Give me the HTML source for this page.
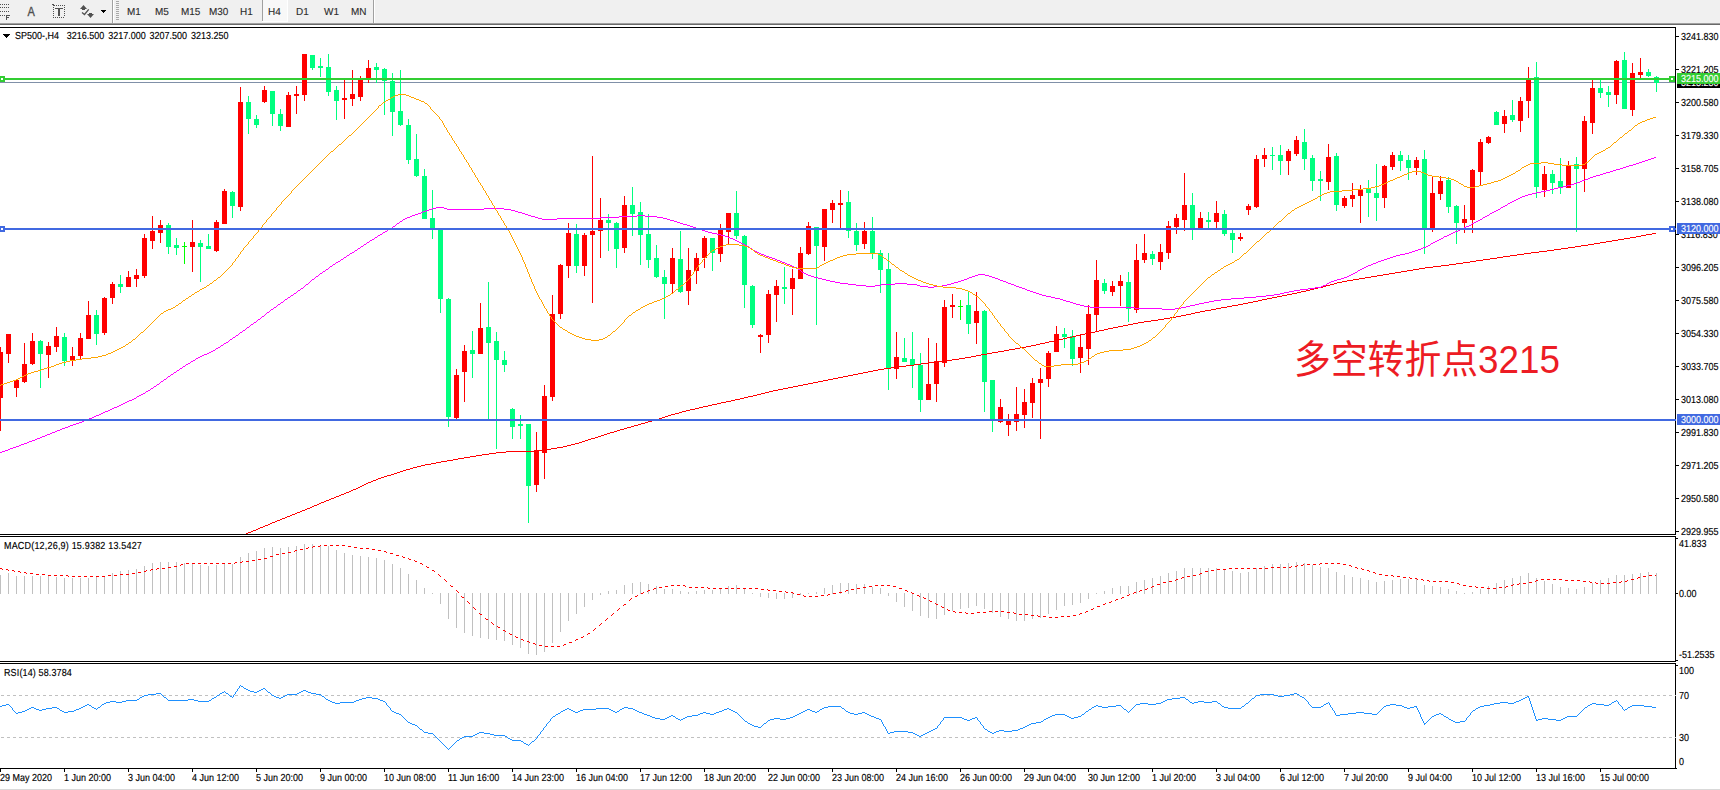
<!DOCTYPE html>
<html lang="zh"><head><meta charset="utf-8"><title>SP500-,H4</title>
<style>
html,body{margin:0;padding:0;background:#fff;}
body{width:1720px;height:790px;position:relative;overflow:hidden;font-family:"Liberation Sans",sans-serif;color:#000;}
.abs{position:absolute;}
#tb{left:0;top:0;width:1720px;height:23px;background:#f0f0f0;}
#tb1{left:0;top:23px;width:1720px;height:1px;background:#a0a0a0;}
#tb2{left:0;top:24px;width:1720px;height:1px;background:#696969;}
#bot{left:0;top:789px;width:1720px;height:1px;background:#d9d9d9;}
svg{position:absolute;left:0;top:0;}
.t{position:absolute;white-space:nowrap;font-size:10.17px;line-height:11px;height:11px;-webkit-text-stroke:0.15px #000;text-rendering:geometricPrecision;transform:scaleX(0.885);transform-origin:0 0;margin-top:1px;}
.tf{position:absolute;white-space:nowrap;font-size:10.17px;line-height:12px;height:12px;top:7px;color:#2c2c2c;-webkit-text-stroke:0.12px #2c2c2c;text-rendering:geometricPrecision;transform:scaleX(0.98);transform-origin:0 0;}
.lab{position:absolute;left:1677px;width:43px;height:11px;color:#fff;}
.lab span{position:absolute;left:4px;top:1px;font-size:10.17px;line-height:11px;white-space:nowrap;-webkit-text-stroke:0.15px #fff;text-rendering:geometricPrecision;transform:scaleX(0.885);transform-origin:0 0;}
#note{position:absolute;left:1294px;top:332.6px;font-family:"Liberation Sans","Noto Sans CJK SC",sans-serif;font-size:36.8px;line-height:52px;color:#ed1c24;white-space:nowrap;transform:scaleY(1.055);transform-origin:0 0;}
</style></head><body>
<div class="abs" id="tb"></div><div class="abs" id="tb1"></div><div class="abs" id="tb2"></div><div class="abs" id="bot"></div>
<svg width="1720" height="25" viewBox="0 0 1720 25" shape-rendering="crispEdges"><rect x="0" y="4" width="1" height="1" fill="#505050"/><rect x="2" y="4" width="1" height="1" fill="#505050"/><rect x="4" y="4" width="1" height="1" fill="#505050"/><rect x="6" y="4" width="1" height="1" fill="#505050"/><rect x="8" y="4" width="1" height="1" fill="#505050"/><rect x="0" y="7" width="1" height="1" fill="#505050"/><rect x="2" y="7" width="1" height="1" fill="#505050"/><rect x="4" y="7" width="1" height="1" fill="#505050"/><rect x="6" y="7" width="1" height="1" fill="#505050"/><rect x="8" y="7" width="1" height="1" fill="#505050"/><rect x="0" y="11" width="1" height="1" fill="#505050"/><rect x="2" y="11" width="1" height="1" fill="#505050"/><rect x="4" y="11" width="1" height="1" fill="#505050"/><rect x="6" y="11" width="1" height="1" fill="#505050"/><rect x="8" y="11" width="1" height="1" fill="#505050"/><rect x="0" y="15" width="1" height="1" fill="#505050"/><rect x="2" y="15" width="1" height="1" fill="#505050"/><rect x="4" y="15" width="1" height="1" fill="#505050"/><rect x="6" y="15" width="1" height="5" fill="#505050"/><rect x="6" y="15" width="4" height="1" fill="#505050"/><rect x="6" y="17" width="3" height="1" fill="#505050"/><rect x="54" y="5" width="1" height="1" fill="#505050"/><rect x="56" y="5" width="1" height="1" fill="#505050"/><rect x="58" y="5" width="1" height="1" fill="#505050"/><rect x="60" y="5" width="1" height="1" fill="#505050"/><rect x="62" y="5" width="1" height="1" fill="#505050"/><rect x="64" y="5" width="1" height="1" fill="#505050"/><rect x="52" y="4" width="2" height="1" fill="#505050"/><rect x="53" y="5" width="1" height="1" fill="#505050"/><rect x="53" y="7" width="1" height="1" fill="#505050"/><rect x="53" y="9" width="1" height="1" fill="#505050"/><rect x="53" y="11" width="1" height="1" fill="#505050"/><rect x="53" y="13" width="1" height="1" fill="#505050"/><rect x="53" y="15" width="1" height="1" fill="#505050"/><rect x="53" y="17" width="1" height="1" fill="#505050"/><rect x="64" y="7" width="1" height="1" fill="#505050"/><rect x="64" y="9" width="1" height="1" fill="#505050"/><rect x="64" y="11" width="1" height="1" fill="#505050"/><rect x="64" y="13" width="1" height="1" fill="#505050"/><rect x="64" y="15" width="1" height="1" fill="#505050"/><rect x="53" y="17" width="1" height="1" fill="#505050"/><rect x="55" y="17" width="1" height="1" fill="#505050"/><rect x="57" y="17" width="1" height="1" fill="#505050"/><rect x="59" y="17" width="1" height="1" fill="#505050"/><rect x="61" y="17" width="1" height="1" fill="#505050"/><rect x="63" y="17" width="1" height="1" fill="#505050"/><rect x="55" y="8" width="8" height="1" fill="#505050"/><rect x="58" y="8" width="2" height="8" fill="#505050"/><polygon points="83.5,5 87,9 80,9" fill="#505050" shape-rendering="auto"/><rect x="82" y="9" width="3" height="1" fill="#505050"/><polygon points="87,14 94,14 90.5,18" fill="#505050" shape-rendering="auto"/><rect x="89" y="13" width="3" height="1" fill="#505050"/><polyline points="82,12.5 84.5,14.5 88.7,9.3" fill="none" stroke="#505050" stroke-width="1.3" shape-rendering="auto"/><rect x="101" y="10" width="5" height="1" fill="#000"/><rect x="102" y="11" width="3" height="1" fill="#000"/><rect x="103" y="12" width="1" height="1" fill="#000"/><rect x="112" y="0" width="1" height="23" fill="#a0a0a0"/><rect x="113" y="0" width="1" height="23" fill="#fff"/><rect x="116" y="1" width="3" height="1" fill="#a8a8a8"/><rect x="116" y="3" width="3" height="1" fill="#a8a8a8"/><rect x="116" y="5" width="3" height="1" fill="#a8a8a8"/><rect x="116" y="7" width="3" height="1" fill="#a8a8a8"/><rect x="116" y="9" width="3" height="1" fill="#a8a8a8"/><rect x="116" y="11" width="3" height="1" fill="#a8a8a8"/><rect x="116" y="13" width="3" height="1" fill="#a8a8a8"/><rect x="116" y="15" width="3" height="1" fill="#a8a8a8"/><rect x="116" y="17" width="3" height="1" fill="#a8a8a8"/><rect x="116" y="19" width="3" height="1" fill="#a8a8a8"/><rect x="262" y="0" width="26" height="22" fill="#f8f8f8"/><rect x="262" y="0" width="1" height="21" fill="#a0a0a0"/><rect x="287" y="0" width="1" height="22" fill="#fff"/><rect x="262" y="21" width="26" height="1" fill="#fff"/><rect x="373" y="0" width="1" height="23" fill="#a0a0a0"/><rect x="374" y="0" width="1" height="23" fill="#fff"/></svg>
<div class="abs" style="left:26.5px;top:4px;font-size:12.5px;line-height:16px;color:#505050;-webkit-text-stroke:0.35px #505050;transform:scaleX(0.88);">A</div>
<div class="tf" style="left:127.3px">M1</div><div class="tf" style="left:155.4px">M5</div><div class="tf" style="left:181.2px">M15</div><div class="tf" style="left:209.2px">M30</div><div class="tf" style="left:240.4px">H1</div><div class="tf" style="left:267.6px">H4</div><div class="tf" style="left:296.4px">D1</div><div class="tf" style="left:324.2px">W1</div><div class="tf" style="left:350.5px">MN</div>
<svg width="1720" height="790" viewBox="0 0 1720 790" shape-rendering="crispEdges"><defs><clipPath id="cmain"><rect x="0" y="28" width="1676" height="506"/></clipPath></defs>
<rect x="0" y="27" width="1676" height="1" fill="#000"/>
<rect x="1675" y="27" width="1" height="508" fill="#000"/>
<rect x="1675" y="536" width="1" height="126" fill="#000"/>
<rect x="1675" y="663" width="1" height="106" fill="#000"/>
<rect x="0" y="534" width="1676" height="1" fill="#000"/>
<rect x="0" y="536" width="1676" height="1" fill="#000"/>
<rect x="0" y="661" width="1676" height="1" fill="#000"/>
<rect x="0" y="663" width="1676" height="1" fill="#000"/>
<rect x="0" y="768" width="1677" height="1" fill="#000"/>
<g clip-path="url(#cmain)">
<rect x="0" y="82" width="1675" height="1" fill="#8090a8"/>
<rect x="0" y="347" width="1" height="84" fill="#ff0000"/>
<rect x="-2" y="352" width="5" height="46" fill="#ff0000"/>
<rect x="8" y="334" width="1" height="29" fill="#ff0000"/>
<rect x="6" y="334" width="5" height="20" fill="#ff0000"/>
<rect x="16" y="379" width="1" height="18" fill="#ff0000"/>
<rect x="14" y="380" width="5" height="8" fill="#ff0000"/>
<rect x="24" y="343" width="1" height="40" fill="#ff0000"/>
<rect x="22" y="364" width="5" height="18" fill="#ff0000"/>
<rect x="32" y="333" width="1" height="32" fill="#ff0000"/>
<rect x="30" y="341" width="5" height="23" fill="#ff0000"/>
<rect x="40" y="340" width="1" height="48" fill="#00ff7f"/>
<rect x="38" y="341" width="5" height="13" fill="#00ff7f"/>
<rect x="48" y="342" width="1" height="36" fill="#ff0000"/>
<rect x="46" y="346" width="5" height="9" fill="#ff0000"/>
<rect x="56" y="327" width="1" height="25" fill="#ff0000"/>
<rect x="54" y="336" width="5" height="11" fill="#ff0000"/>
<rect x="64" y="333" width="1" height="33" fill="#00ff7f"/>
<rect x="62" y="337" width="5" height="24" fill="#00ff7f"/>
<rect x="72" y="347" width="1" height="19" fill="#ff0000"/>
<rect x="70" y="356" width="5" height="5" fill="#ff0000"/>
<rect x="80" y="333" width="1" height="26" fill="#ff0000"/>
<rect x="78" y="338" width="5" height="18" fill="#ff0000"/>
<rect x="88" y="301" width="1" height="38" fill="#ff0000"/>
<rect x="86" y="315" width="5" height="24" fill="#ff0000"/>
<rect x="96" y="310" width="1" height="35" fill="#00ff7f"/>
<rect x="94" y="315" width="5" height="19" fill="#00ff7f"/>
<rect x="104" y="297" width="1" height="38" fill="#ff0000"/>
<rect x="102" y="298" width="5" height="35" fill="#ff0000"/>
<rect x="112" y="282" width="1" height="22" fill="#ff0000"/>
<rect x="110" y="284" width="5" height="14" fill="#ff0000"/>
<rect x="120" y="275" width="1" height="18" fill="#00ff7f"/>
<rect x="118" y="284" width="5" height="3" fill="#00ff7f"/>
<rect x="128" y="271" width="1" height="16" fill="#ff0000"/>
<rect x="126" y="277" width="5" height="10" fill="#ff0000"/>
<rect x="136" y="269" width="1" height="18" fill="#ff0000"/>
<rect x="134" y="275" width="5" height="4" fill="#ff0000"/>
<rect x="144" y="234" width="1" height="44" fill="#ff0000"/>
<rect x="142" y="238" width="5" height="38" fill="#ff0000"/>
<rect x="152" y="216" width="1" height="33" fill="#ff0000"/>
<rect x="150" y="231" width="5" height="10" fill="#ff0000"/>
<rect x="160" y="220" width="1" height="23" fill="#ff0000"/>
<rect x="158" y="225" width="5" height="8" fill="#ff0000"/>
<rect x="168" y="223" width="1" height="31" fill="#00ff7f"/>
<rect x="166" y="225" width="5" height="22" fill="#00ff7f"/>
<rect x="176" y="238" width="1" height="17" fill="#00ff7f"/>
<rect x="174" y="245" width="5" height="3" fill="#00ff7f"/>
<rect x="184" y="242" width="1" height="22" fill="#00ff00"/>
<rect x="182" y="246" width="5" height="1" fill="#00ff00"/>
<rect x="192" y="220" width="1" height="52" fill="#ff0000"/>
<rect x="190" y="242" width="5" height="5" fill="#ff0000"/>
<rect x="200" y="240" width="1" height="42" fill="#00ff7f"/>
<rect x="198" y="243" width="5" height="4" fill="#00ff7f"/>
<rect x="208" y="234" width="1" height="15" fill="#00ff7f"/>
<rect x="206" y="246" width="5" height="3" fill="#00ff7f"/>
<rect x="216" y="220" width="1" height="32" fill="#ff0000"/>
<rect x="214" y="222" width="5" height="29" fill="#ff0000"/>
<rect x="224" y="189" width="1" height="35" fill="#ff0000"/>
<rect x="222" y="191" width="5" height="33" fill="#ff0000"/>
<rect x="232" y="191" width="1" height="27" fill="#00ff7f"/>
<rect x="230" y="192" width="5" height="14" fill="#00ff7f"/>
<rect x="240" y="87" width="1" height="124" fill="#ff0000"/>
<rect x="238" y="102" width="5" height="105" fill="#ff0000"/>
<rect x="248" y="96" width="1" height="38" fill="#00ff7f"/>
<rect x="246" y="102" width="5" height="17" fill="#00ff7f"/>
<rect x="256" y="115" width="1" height="13" fill="#00ff7f"/>
<rect x="254" y="119" width="5" height="6" fill="#00ff7f"/>
<rect x="264" y="86" width="1" height="17" fill="#ff0000"/>
<rect x="262" y="90" width="5" height="12" fill="#ff0000"/>
<rect x="272" y="91" width="1" height="35" fill="#00ff7f"/>
<rect x="270" y="91" width="5" height="23" fill="#00ff7f"/>
<rect x="280" y="109" width="1" height="22" fill="#00ff7f"/>
<rect x="278" y="114" width="5" height="12" fill="#00ff7f"/>
<rect x="288" y="92" width="1" height="35" fill="#ff0000"/>
<rect x="286" y="95" width="5" height="32" fill="#ff0000"/>
<rect x="296" y="86" width="1" height="28" fill="#ff0000"/>
<rect x="294" y="94" width="5" height="2" fill="#ff0000"/>
<rect x="304" y="54" width="1" height="47" fill="#ff0000"/>
<rect x="302" y="54" width="5" height="41" fill="#ff0000"/>
<rect x="312" y="55" width="1" height="15" fill="#00ff7f"/>
<rect x="310" y="55" width="5" height="13" fill="#00ff7f"/>
<rect x="320" y="58" width="1" height="19" fill="#00ff7f"/>
<rect x="318" y="66" width="5" height="2" fill="#00ff7f"/>
<rect x="328" y="54" width="1" height="42" fill="#00ff7f"/>
<rect x="326" y="67" width="5" height="25" fill="#00ff7f"/>
<rect x="336" y="86" width="1" height="34" fill="#00ff7f"/>
<rect x="334" y="90" width="5" height="11" fill="#00ff7f"/>
<rect x="344" y="80" width="1" height="39" fill="#ff0000"/>
<rect x="342" y="98" width="5" height="2" fill="#ff0000"/>
<rect x="352" y="70" width="1" height="36" fill="#ff0000"/>
<rect x="350" y="94" width="5" height="5" fill="#ff0000"/>
<rect x="360" y="76" width="1" height="25" fill="#ff0000"/>
<rect x="358" y="79" width="5" height="18" fill="#ff0000"/>
<rect x="368" y="60" width="1" height="23" fill="#ff0000"/>
<rect x="366" y="68" width="5" height="10" fill="#ff0000"/>
<rect x="376" y="63" width="1" height="20" fill="#00ff7f"/>
<rect x="374" y="67" width="5" height="3" fill="#00ff7f"/>
<rect x="384" y="68" width="1" height="47" fill="#00ff7f"/>
<rect x="382" y="69" width="5" height="12" fill="#00ff7f"/>
<rect x="392" y="73" width="1" height="63" fill="#00ff7f"/>
<rect x="390" y="81" width="5" height="31" fill="#00ff7f"/>
<rect x="400" y="70" width="1" height="56" fill="#00ff7f"/>
<rect x="398" y="111" width="5" height="14" fill="#00ff7f"/>
<rect x="408" y="119" width="1" height="45" fill="#00ff7f"/>
<rect x="406" y="125" width="5" height="35" fill="#00ff7f"/>
<rect x="416" y="134" width="1" height="43" fill="#00ff7f"/>
<rect x="414" y="159" width="5" height="17" fill="#00ff7f"/>
<rect x="424" y="169" width="1" height="50" fill="#00ff7f"/>
<rect x="422" y="176" width="5" height="43" fill="#00ff7f"/>
<rect x="432" y="190" width="1" height="49" fill="#00ff7f"/>
<rect x="430" y="218" width="5" height="10" fill="#00ff7f"/>
<rect x="440" y="230" width="1" height="83" fill="#00ff7f"/>
<rect x="438" y="230" width="5" height="69" fill="#00ff7f"/>
<rect x="448" y="298" width="1" height="129" fill="#00ff7f"/>
<rect x="446" y="299" width="5" height="118" fill="#00ff7f"/>
<rect x="456" y="369" width="1" height="50" fill="#ff0000"/>
<rect x="454" y="375" width="5" height="43" fill="#ff0000"/>
<rect x="464" y="345" width="1" height="57" fill="#ff0000"/>
<rect x="462" y="351" width="5" height="21" fill="#ff0000"/>
<rect x="472" y="331" width="1" height="47" fill="#00ff7f"/>
<rect x="470" y="350" width="5" height="4" fill="#00ff7f"/>
<rect x="480" y="303" width="1" height="51" fill="#ff0000"/>
<rect x="478" y="328" width="5" height="26" fill="#ff0000"/>
<rect x="488" y="282" width="1" height="137" fill="#00ff7f"/>
<rect x="486" y="327" width="5" height="16" fill="#00ff7f"/>
<rect x="496" y="332" width="1" height="117" fill="#00ff7f"/>
<rect x="494" y="341" width="5" height="19" fill="#00ff7f"/>
<rect x="504" y="351" width="1" height="21" fill="#00ff7f"/>
<rect x="502" y="360" width="5" height="5" fill="#00ff7f"/>
<rect x="512" y="408" width="1" height="31" fill="#00ff7f"/>
<rect x="510" y="409" width="5" height="18" fill="#00ff7f"/>
<rect x="520" y="415" width="1" height="24" fill="#00ff7f"/>
<rect x="518" y="424" width="5" height="2" fill="#00ff7f"/>
<rect x="528" y="424" width="1" height="99" fill="#00ff7f"/>
<rect x="526" y="424" width="5" height="62" fill="#00ff7f"/>
<rect x="536" y="432" width="1" height="60" fill="#ff0000"/>
<rect x="534" y="451" width="5" height="34" fill="#ff0000"/>
<rect x="544" y="385" width="1" height="94" fill="#ff0000"/>
<rect x="542" y="396" width="5" height="57" fill="#ff0000"/>
<rect x="552" y="295" width="1" height="106" fill="#ff0000"/>
<rect x="550" y="314" width="5" height="83" fill="#ff0000"/>
<rect x="560" y="264" width="1" height="55" fill="#ff0000"/>
<rect x="558" y="265" width="5" height="49" fill="#ff0000"/>
<rect x="568" y="223" width="1" height="55" fill="#ff0000"/>
<rect x="566" y="233" width="5" height="33" fill="#ff0000"/>
<rect x="576" y="224" width="1" height="49" fill="#00ff7f"/>
<rect x="574" y="234" width="5" height="32" fill="#00ff7f"/>
<rect x="584" y="233" width="1" height="43" fill="#ff0000"/>
<rect x="582" y="235" width="5" height="31" fill="#ff0000"/>
<rect x="592" y="156" width="1" height="147" fill="#ff0000"/>
<rect x="590" y="231" width="5" height="4" fill="#ff0000"/>
<rect x="600" y="198" width="1" height="60" fill="#ff0000"/>
<rect x="598" y="220" width="5" height="11" fill="#ff0000"/>
<rect x="608" y="214" width="1" height="37" fill="#00ff7f"/>
<rect x="606" y="220" width="5" height="3" fill="#00ff7f"/>
<rect x="616" y="222" width="1" height="46" fill="#00ff7f"/>
<rect x="614" y="223" width="5" height="26" fill="#00ff7f"/>
<rect x="624" y="196" width="1" height="57" fill="#ff0000"/>
<rect x="622" y="205" width="5" height="43" fill="#ff0000"/>
<rect x="632" y="187" width="1" height="49" fill="#00ff7f"/>
<rect x="630" y="205" width="5" height="9" fill="#00ff7f"/>
<rect x="640" y="202" width="1" height="63" fill="#00ff7f"/>
<rect x="638" y="212" width="5" height="23" fill="#00ff7f"/>
<rect x="648" y="214" width="1" height="54" fill="#00ff7f"/>
<rect x="646" y="234" width="5" height="26" fill="#00ff7f"/>
<rect x="656" y="245" width="1" height="33" fill="#00ff7f"/>
<rect x="654" y="258" width="5" height="19" fill="#00ff7f"/>
<rect x="664" y="270" width="1" height="49" fill="#00ff7f"/>
<rect x="662" y="277" width="5" height="7" fill="#00ff7f"/>
<rect x="672" y="248" width="1" height="45" fill="#ff0000"/>
<rect x="670" y="258" width="5" height="26" fill="#ff0000"/>
<rect x="680" y="231" width="1" height="62" fill="#00ff7f"/>
<rect x="678" y="259" width="5" height="33" fill="#00ff7f"/>
<rect x="688" y="248" width="1" height="57" fill="#ff0000"/>
<rect x="686" y="270" width="5" height="21" fill="#ff0000"/>
<rect x="696" y="253" width="1" height="31" fill="#ff0000"/>
<rect x="694" y="258" width="5" height="13" fill="#ff0000"/>
<rect x="704" y="236" width="1" height="32" fill="#ff0000"/>
<rect x="702" y="238" width="5" height="20" fill="#ff0000"/>
<rect x="712" y="238" width="1" height="33" fill="#00ff7f"/>
<rect x="710" y="238" width="5" height="15" fill="#00ff7f"/>
<rect x="720" y="224" width="1" height="38" fill="#ff0000"/>
<rect x="718" y="230" width="5" height="24" fill="#ff0000"/>
<rect x="728" y="213" width="1" height="32" fill="#ff0000"/>
<rect x="726" y="213" width="5" height="19" fill="#ff0000"/>
<rect x="736" y="191" width="1" height="48" fill="#00ff7f"/>
<rect x="734" y="213" width="5" height="23" fill="#00ff7f"/>
<rect x="744" y="235" width="1" height="73" fill="#00ff7f"/>
<rect x="742" y="236" width="5" height="49" fill="#00ff7f"/>
<rect x="752" y="285" width="1" height="43" fill="#00ff7f"/>
<rect x="750" y="286" width="5" height="39" fill="#00ff7f"/>
<rect x="760" y="334" width="1" height="19" fill="#ff0000"/>
<rect x="758" y="335" width="5" height="2" fill="#ff0000"/>
<rect x="768" y="290" width="1" height="53" fill="#ff0000"/>
<rect x="766" y="294" width="5" height="41" fill="#ff0000"/>
<rect x="776" y="280" width="1" height="42" fill="#ff0000"/>
<rect x="774" y="286" width="5" height="9" fill="#ff0000"/>
<rect x="784" y="267" width="1" height="37" fill="#00ff7f"/>
<rect x="782" y="287" width="5" height="2" fill="#00ff7f"/>
<rect x="792" y="269" width="1" height="46" fill="#ff0000"/>
<rect x="790" y="278" width="5" height="11" fill="#ff0000"/>
<rect x="800" y="247" width="1" height="32" fill="#ff0000"/>
<rect x="798" y="253" width="5" height="26" fill="#ff0000"/>
<rect x="808" y="222" width="1" height="33" fill="#ff0000"/>
<rect x="806" y="226" width="5" height="28" fill="#ff0000"/>
<rect x="816" y="227" width="1" height="98" fill="#00ff7f"/>
<rect x="814" y="227" width="5" height="19" fill="#00ff7f"/>
<rect x="824" y="209" width="1" height="52" fill="#ff0000"/>
<rect x="822" y="209" width="5" height="38" fill="#ff0000"/>
<rect x="832" y="200" width="1" height="23" fill="#ff0000"/>
<rect x="830" y="203" width="5" height="7" fill="#ff0000"/>
<rect x="840" y="190" width="1" height="39" fill="#ff0000"/>
<rect x="838" y="203" width="5" height="2" fill="#ff0000"/>
<rect x="848" y="191" width="1" height="47" fill="#00ff7f"/>
<rect x="846" y="202" width="5" height="29" fill="#00ff7f"/>
<rect x="856" y="223" width="1" height="28" fill="#00ff7f"/>
<rect x="854" y="231" width="5" height="14" fill="#00ff7f"/>
<rect x="864" y="222" width="1" height="27" fill="#ff0000"/>
<rect x="862" y="231" width="5" height="13" fill="#ff0000"/>
<rect x="872" y="217" width="1" height="42" fill="#00ff7f"/>
<rect x="870" y="231" width="5" height="22" fill="#00ff7f"/>
<rect x="880" y="250" width="1" height="43" fill="#00ff7f"/>
<rect x="878" y="253" width="5" height="17" fill="#00ff7f"/>
<rect x="888" y="253" width="1" height="137" fill="#00ff7f"/>
<rect x="886" y="269" width="5" height="99" fill="#00ff7f"/>
<rect x="896" y="332" width="1" height="47" fill="#ff0000"/>
<rect x="894" y="357" width="5" height="12" fill="#ff0000"/>
<rect x="904" y="338" width="1" height="24" fill="#00ff7f"/>
<rect x="902" y="358" width="5" height="4" fill="#00ff7f"/>
<rect x="912" y="332" width="1" height="56" fill="#00ff7f"/>
<rect x="910" y="359" width="5" height="6" fill="#00ff7f"/>
<rect x="920" y="353" width="1" height="59" fill="#00ff7f"/>
<rect x="918" y="365" width="5" height="35" fill="#00ff7f"/>
<rect x="928" y="338" width="1" height="62" fill="#ff0000"/>
<rect x="926" y="384" width="5" height="16" fill="#ff0000"/>
<rect x="936" y="343" width="1" height="59" fill="#ff0000"/>
<rect x="934" y="361" width="5" height="23" fill="#ff0000"/>
<rect x="944" y="300" width="1" height="67" fill="#ff0000"/>
<rect x="942" y="307" width="5" height="56" fill="#ff0000"/>
<rect x="952" y="294" width="1" height="24" fill="#ff0000"/>
<rect x="950" y="305" width="5" height="2" fill="#ff0000"/>
<rect x="960" y="300" width="1" height="20" fill="#00ff00"/>
<rect x="958" y="306" width="5" height="1" fill="#00ff00"/>
<rect x="968" y="291" width="1" height="43" fill="#00ff7f"/>
<rect x="966" y="305" width="5" height="19" fill="#00ff7f"/>
<rect x="976" y="292" width="1" height="52" fill="#ff0000"/>
<rect x="974" y="311" width="5" height="12" fill="#ff0000"/>
<rect x="984" y="310" width="1" height="102" fill="#00ff7f"/>
<rect x="982" y="311" width="5" height="71" fill="#00ff7f"/>
<rect x="992" y="380" width="1" height="52" fill="#00ff7f"/>
<rect x="990" y="380" width="5" height="41" fill="#00ff7f"/>
<rect x="1000" y="399" width="1" height="24" fill="#ff0000"/>
<rect x="998" y="407" width="5" height="15" fill="#ff0000"/>
<rect x="1008" y="414" width="1" height="22" fill="#ff0000"/>
<rect x="1006" y="421" width="5" height="4" fill="#ff0000"/>
<rect x="1016" y="387" width="1" height="44" fill="#ff0000"/>
<rect x="1014" y="414" width="5" height="8" fill="#ff0000"/>
<rect x="1024" y="389" width="1" height="39" fill="#ff0000"/>
<rect x="1022" y="402" width="5" height="13" fill="#ff0000"/>
<rect x="1032" y="378" width="1" height="40" fill="#ff0000"/>
<rect x="1030" y="383" width="5" height="20" fill="#ff0000"/>
<rect x="1040" y="368" width="1" height="71" fill="#ff0000"/>
<rect x="1038" y="379" width="5" height="4" fill="#ff0000"/>
<rect x="1048" y="351" width="1" height="36" fill="#ff0000"/>
<rect x="1046" y="353" width="5" height="26" fill="#ff0000"/>
<rect x="1056" y="326" width="1" height="26" fill="#ff0000"/>
<rect x="1054" y="334" width="5" height="18" fill="#ff0000"/>
<rect x="1064" y="328" width="1" height="20" fill="#00ff7f"/>
<rect x="1062" y="334" width="5" height="3" fill="#00ff7f"/>
<rect x="1072" y="330" width="1" height="36" fill="#00ff7f"/>
<rect x="1070" y="336" width="5" height="23" fill="#00ff7f"/>
<rect x="1080" y="334" width="1" height="39" fill="#ff0000"/>
<rect x="1078" y="347" width="5" height="11" fill="#ff0000"/>
<rect x="1088" y="305" width="1" height="60" fill="#ff0000"/>
<rect x="1086" y="314" width="5" height="35" fill="#ff0000"/>
<rect x="1096" y="260" width="1" height="72" fill="#ff0000"/>
<rect x="1094" y="280" width="5" height="35" fill="#ff0000"/>
<rect x="1104" y="279" width="1" height="15" fill="#00ff7f"/>
<rect x="1102" y="283" width="5" height="8" fill="#00ff7f"/>
<rect x="1112" y="281" width="1" height="15" fill="#ff0000"/>
<rect x="1110" y="286" width="5" height="6" fill="#ff0000"/>
<rect x="1120" y="275" width="1" height="31" fill="#ff0000"/>
<rect x="1118" y="281" width="5" height="5" fill="#ff0000"/>
<rect x="1128" y="272" width="1" height="50" fill="#00ff7f"/>
<rect x="1126" y="282" width="5" height="27" fill="#00ff7f"/>
<rect x="1136" y="244" width="1" height="69" fill="#ff0000"/>
<rect x="1134" y="260" width="5" height="50" fill="#ff0000"/>
<rect x="1144" y="234" width="1" height="29" fill="#ff0000"/>
<rect x="1142" y="253" width="5" height="7" fill="#ff0000"/>
<rect x="1152" y="251" width="1" height="14" fill="#00ff7f"/>
<rect x="1150" y="254" width="5" height="5" fill="#00ff7f"/>
<rect x="1160" y="244" width="1" height="26" fill="#ff0000"/>
<rect x="1158" y="252" width="5" height="10" fill="#ff0000"/>
<rect x="1168" y="221" width="1" height="38" fill="#ff0000"/>
<rect x="1166" y="226" width="5" height="27" fill="#ff0000"/>
<rect x="1176" y="214" width="1" height="20" fill="#ff0000"/>
<rect x="1174" y="218" width="5" height="9" fill="#ff0000"/>
<rect x="1184" y="173" width="1" height="58" fill="#ff0000"/>
<rect x="1182" y="205" width="5" height="15" fill="#ff0000"/>
<rect x="1192" y="193" width="1" height="47" fill="#00ff7f"/>
<rect x="1190" y="205" width="5" height="23" fill="#00ff7f"/>
<rect x="1200" y="212" width="1" height="16" fill="#ff0000"/>
<rect x="1198" y="218" width="5" height="10" fill="#ff0000"/>
<rect x="1208" y="212" width="1" height="16" fill="#00ff7f"/>
<rect x="1206" y="220" width="5" height="2" fill="#00ff7f"/>
<rect x="1216" y="201" width="1" height="27" fill="#ff0000"/>
<rect x="1214" y="213" width="5" height="9" fill="#ff0000"/>
<rect x="1224" y="210" width="1" height="26" fill="#00ff7f"/>
<rect x="1222" y="214" width="5" height="20" fill="#00ff7f"/>
<rect x="1232" y="230" width="1" height="23" fill="#00ff7f"/>
<rect x="1230" y="233" width="5" height="7" fill="#00ff7f"/>
<rect x="1240" y="233" width="1" height="8" fill="#ff0000"/>
<rect x="1238" y="237" width="5" height="2" fill="#ff0000"/>
<rect x="1248" y="204" width="1" height="11" fill="#ff0000"/>
<rect x="1246" y="206" width="5" height="4" fill="#ff0000"/>
<rect x="1256" y="155" width="1" height="53" fill="#ff0000"/>
<rect x="1254" y="159" width="5" height="48" fill="#ff0000"/>
<rect x="1264" y="148" width="1" height="19" fill="#ff0000"/>
<rect x="1262" y="155" width="5" height="4" fill="#ff0000"/>
<rect x="1272" y="147" width="1" height="23" fill="#00ff7f"/>
<rect x="1270" y="155" width="5" height="1" fill="#00ff7f"/>
<rect x="1280" y="145" width="1" height="30" fill="#00ff7f"/>
<rect x="1278" y="155" width="5" height="6" fill="#00ff7f"/>
<rect x="1288" y="149" width="1" height="26" fill="#ff0000"/>
<rect x="1286" y="151" width="5" height="10" fill="#ff0000"/>
<rect x="1296" y="136" width="1" height="20" fill="#ff0000"/>
<rect x="1294" y="140" width="5" height="14" fill="#ff0000"/>
<rect x="1304" y="129" width="1" height="41" fill="#00ff7f"/>
<rect x="1302" y="142" width="5" height="17" fill="#00ff7f"/>
<rect x="1312" y="155" width="1" height="36" fill="#00ff7f"/>
<rect x="1310" y="158" width="5" height="23" fill="#00ff7f"/>
<rect x="1320" y="171" width="1" height="30" fill="#00ff7f"/>
<rect x="1318" y="179" width="5" height="2" fill="#00ff7f"/>
<rect x="1328" y="144" width="1" height="46" fill="#ff0000"/>
<rect x="1326" y="157" width="5" height="25" fill="#ff0000"/>
<rect x="1336" y="153" width="1" height="58" fill="#00ff7f"/>
<rect x="1334" y="156" width="5" height="49" fill="#00ff7f"/>
<rect x="1344" y="196" width="1" height="12" fill="#ff0000"/>
<rect x="1342" y="198" width="5" height="8" fill="#ff0000"/>
<rect x="1352" y="183" width="1" height="24" fill="#ff0000"/>
<rect x="1350" y="195" width="5" height="4" fill="#ff0000"/>
<rect x="1360" y="185" width="1" height="38" fill="#ff0000"/>
<rect x="1358" y="190" width="5" height="6" fill="#ff0000"/>
<rect x="1368" y="180" width="1" height="37" fill="#00ff7f"/>
<rect x="1366" y="189" width="5" height="4" fill="#00ff7f"/>
<rect x="1376" y="164" width="1" height="57" fill="#00ff7f"/>
<rect x="1374" y="193" width="5" height="5" fill="#00ff7f"/>
<rect x="1384" y="165" width="1" height="43" fill="#ff0000"/>
<rect x="1382" y="166" width="5" height="32" fill="#ff0000"/>
<rect x="1392" y="152" width="1" height="18" fill="#ff0000"/>
<rect x="1390" y="155" width="5" height="12" fill="#ff0000"/>
<rect x="1400" y="151" width="1" height="20" fill="#00ff7f"/>
<rect x="1398" y="155" width="5" height="6" fill="#00ff7f"/>
<rect x="1408" y="155" width="1" height="25" fill="#00ff7f"/>
<rect x="1406" y="160" width="5" height="8" fill="#00ff7f"/>
<rect x="1416" y="157" width="1" height="18" fill="#ff0000"/>
<rect x="1414" y="160" width="5" height="8" fill="#ff0000"/>
<rect x="1424" y="150" width="1" height="104" fill="#00ff7f"/>
<rect x="1422" y="159" width="5" height="69" fill="#00ff7f"/>
<rect x="1432" y="177" width="1" height="55" fill="#ff0000"/>
<rect x="1430" y="193" width="5" height="35" fill="#ff0000"/>
<rect x="1440" y="176" width="1" height="24" fill="#ff0000"/>
<rect x="1438" y="181" width="5" height="13" fill="#ff0000"/>
<rect x="1448" y="177" width="1" height="36" fill="#00ff7f"/>
<rect x="1446" y="180" width="5" height="27" fill="#00ff7f"/>
<rect x="1456" y="205" width="1" height="39" fill="#00ff7f"/>
<rect x="1454" y="206" width="5" height="17" fill="#00ff7f"/>
<rect x="1464" y="205" width="1" height="28" fill="#ff0000"/>
<rect x="1462" y="219" width="5" height="4" fill="#ff0000"/>
<rect x="1472" y="169" width="1" height="64" fill="#ff0000"/>
<rect x="1470" y="170" width="5" height="50" fill="#ff0000"/>
<rect x="1480" y="139" width="1" height="46" fill="#ff0000"/>
<rect x="1478" y="142" width="5" height="30" fill="#ff0000"/>
<rect x="1488" y="136" width="1" height="8" fill="#ff0000"/>
<rect x="1486" y="137" width="5" height="6" fill="#ff0000"/>
<rect x="1496" y="111" width="1" height="14" fill="#00ff7f"/>
<rect x="1494" y="112" width="5" height="13" fill="#00ff7f"/>
<rect x="1504" y="110" width="1" height="23" fill="#ff0000"/>
<rect x="1502" y="116" width="5" height="8" fill="#ff0000"/>
<rect x="1512" y="100" width="1" height="22" fill="#00ff7f"/>
<rect x="1510" y="115" width="5" height="5" fill="#00ff7f"/>
<rect x="1520" y="97" width="1" height="35" fill="#ff0000"/>
<rect x="1518" y="101" width="5" height="20" fill="#ff0000"/>
<rect x="1528" y="67" width="1" height="51" fill="#ff0000"/>
<rect x="1526" y="78" width="5" height="23" fill="#ff0000"/>
<rect x="1536" y="62" width="1" height="136" fill="#00ff7f"/>
<rect x="1534" y="77" width="5" height="110" fill="#00ff7f"/>
<rect x="1544" y="166" width="1" height="31" fill="#ff0000"/>
<rect x="1542" y="174" width="5" height="16" fill="#ff0000"/>
<rect x="1552" y="170" width="1" height="24" fill="#00ff7f"/>
<rect x="1550" y="174" width="5" height="9" fill="#00ff7f"/>
<rect x="1560" y="158" width="1" height="36" fill="#00ff7f"/>
<rect x="1558" y="181" width="5" height="6" fill="#00ff7f"/>
<rect x="1568" y="161" width="1" height="27" fill="#ff0000"/>
<rect x="1566" y="165" width="5" height="23" fill="#ff0000"/>
<rect x="1576" y="157" width="1" height="75" fill="#00ff7f"/>
<rect x="1574" y="164" width="5" height="5" fill="#00ff7f"/>
<rect x="1584" y="116" width="1" height="76" fill="#ff0000"/>
<rect x="1582" y="121" width="5" height="48" fill="#ff0000"/>
<rect x="1592" y="80" width="1" height="54" fill="#ff0000"/>
<rect x="1590" y="88" width="5" height="35" fill="#ff0000"/>
<rect x="1600" y="80" width="1" height="18" fill="#00ff7f"/>
<rect x="1598" y="88" width="5" height="5" fill="#00ff7f"/>
<rect x="1608" y="86" width="1" height="21" fill="#00ff7f"/>
<rect x="1606" y="92" width="5" height="3" fill="#00ff7f"/>
<rect x="1616" y="60" width="1" height="44" fill="#ff0000"/>
<rect x="1614" y="61" width="5" height="34" fill="#ff0000"/>
<rect x="1624" y="52" width="1" height="57" fill="#00ff7f"/>
<rect x="1622" y="60" width="5" height="49" fill="#00ff7f"/>
<rect x="1632" y="63" width="1" height="53" fill="#ff0000"/>
<rect x="1630" y="73" width="5" height="37" fill="#ff0000"/>
<rect x="1640" y="58" width="1" height="20" fill="#ff0000"/>
<rect x="1638" y="72" width="5" height="3" fill="#ff0000"/>
<rect x="1648" y="69" width="1" height="8" fill="#00ff7f"/>
<rect x="1646" y="72" width="5" height="4" fill="#00ff7f"/>
<rect x="1656" y="76" width="1" height="16" fill="#00ff7f"/>
<rect x="1654" y="77" width="5" height="6" fill="#00ff7f"/>
<path d="M1652 233.5h4M1646 234.5h6M1641 235.5h5M1636 236.5h5M1630 237.5h6M1624 238.5h6M1618 239.5h6M1612 240.5h6M1606 241.5h6M1600 242.5h6M1594 243.5h6M1588 244.5h6M1581 245.5h7M1575 246.5h6M1568 247.5h7M1561 248.5h7M1554 249.5h7M1547 250.5h7M1539 251.5h8M1531 252.5h8M1524 253.5h7M1517 254.5h7M1510 255.5h7M1503 256.5h7M1497 257.5h6M1490 258.5h7M1483 259.5h7M1476 260.5h7M1470 261.5h6M1463 262.5h7M1456 263.5h7M1449 264.5h7M1441 265.5h8M1433 266.5h8M1425 267.5h8M1419 268.5h6M1413 269.5h6M1407 270.5h6M1401 271.5h6M1395 272.5h6M1389 273.5h6M1383 274.5h6M1377 275.5h6M1371 276.5h6M1365 277.5h6M1359 278.5h6M1353 279.5h6M1347 280.5h6M1342 281.5h5M1337 282.5h5M1334 283.5h3M1330 284.5h4M1326 285.5h4M1323 286.5h3M1318 287.5h5M1314 288.5h4M1310 289.5h4M1306 290.5h4M1301 291.5h5M1297 292.5h4M1292 293.5h5M1287 294.5h5M1282 295.5h5M1277 296.5h5M1272 297.5h5M1267 298.5h5M1262 299.5h5M1258 300.5h4M1253 301.5h5M1248 302.5h5M1243 303.5h5M1238 304.5h5M1232 305.5h6M1227 306.5h5M1221 307.5h6M1216 308.5h5M1211 309.5h5M1205 310.5h6M1200 311.5h5M1195 312.5h5M1191 313.5h4M1186 314.5h5M1181 315.5h5M1176 316.5h5M1170 317.5h6M1164 318.5h6M1158 319.5h6M1151 320.5h7M1144 321.5h7M1138 322.5h6M1133 323.5h5M1128 324.5h5M1123 325.5h5M1118 326.5h5M1113 327.5h5M1108 328.5h5M1104 329.5h4M1099 330.5h5M1095 331.5h4M1090 332.5h5M1085 333.5h5M1081 334.5h4M1076 335.5h5M1072 336.5h4M1067 337.5h5M1063 338.5h4M1058 339.5h5M1054 340.5h4M1049 341.5h5M1045 342.5h4M1040 343.5h5M1036 344.5h4M1031 345.5h5M1026 346.5h5M1020 347.5h6M1015 348.5h5M1009 349.5h6M1004 350.5h5M998 351.5h6M992 352.5h6M987 353.5h5M981 354.5h6M976 355.5h5M971 356.5h5M965 357.5h6M959 358.5h6M952 359.5h7M945 360.5h7M937 361.5h8M929 362.5h8M921 363.5h8M914 364.5h7M906 365.5h8M899 366.5h7M891 367.5h8M884 368.5h7M878 369.5h6M873 370.5h5M868 371.5h5M863 372.5h5M858 373.5h5M853 374.5h5M848 375.5h5M843 376.5h5M838 377.5h5M833 378.5h5M828 379.5h5M823 380.5h5M818 381.5h5M813 382.5h5M808 383.5h5M803 384.5h5M798 385.5h5M793 386.5h5M788 387.5h5M783 388.5h5M778 389.5h5M773 390.5h5M769 391.5h4M765 392.5h4M761 393.5h4M757 394.5h4M753 395.5h4M748 396.5h5M744 397.5h4M740 398.5h4M735 399.5h5M731 400.5h4M726 401.5h5M721 402.5h5M717 403.5h4M712 404.5h5M708 405.5h4M703 406.5h5M699 407.5h4M695 408.5h4M690 409.5h5M686 410.5h4M682 411.5h4M679 412.5h3M675 413.5h4M671 414.5h4M668 415.5h3M665 416.5h3M662 417.5h3M659 418.5h3M656 419.5h3M652 420.5h4M648 421.5h4M645 422.5h3M641 423.5h4M638 424.5h3M634 425.5h4M631 426.5h3M627 427.5h4M624 428.5h3M620 429.5h4M617 430.5h3M614 431.5h3M610 432.5h4M607 433.5h3M604 434.5h3M601 435.5h3M598 436.5h3M595 437.5h3M591 438.5h4M588 439.5h3M585 440.5h3M582 441.5h3M579 442.5h3M575 443.5h4M571 444.5h4M567 445.5h4M563 446.5h4M557 447.5h6M551 448.5h6M544 449.5h7M534 450.5h10M506 451.5h28M496 452.5h10M489 453.5h7M482 454.5h7M476 455.5h6M470 456.5h6M464 457.5h6M458 458.5h6M453 459.5h5M447 460.5h6M441 461.5h6M436 462.5h5M431 463.5h5M425 464.5h6M421 465.5h4M417 466.5h4M413 467.5h4M410 468.5h3M406 469.5h4M403 470.5h3M400 471.5h3M397 472.5h3M394 473.5h3M391 474.5h3M387 475.5h4M384 476.5h3M381 477.5h3M378 478.5h3M376 479.5h2M373 480.5h3M371 481.5h2M368 482.5h3M366 483.5h2M364 484.5h2M362 485.5h2M360 486.5h2M358 487.5h2M356 488.5h2M353 489.5h3M351 490.5h2M349 491.5h2M346 492.5h3M344 493.5h2M341 494.5h3M339 495.5h2M336 496.5h3M334 497.5h2M331 498.5h3M329 499.5h2M326 500.5h3M324 501.5h2M321 502.5h3M319 503.5h2M317 504.5h2M314 505.5h3M312 506.5h2M310 507.5h2M307 508.5h3M305 509.5h2M302 510.5h3M300 511.5h2M297 512.5h3M295 513.5h2M292 514.5h3M290 515.5h2M287 516.5h3M285 517.5h2M282 518.5h3M280 519.5h2M277 520.5h3M275 521.5h2M272 522.5h3M270 523.5h2M268 524.5h2M265 525.5h3M263 526.5h2M260 527.5h3M258 528.5h2M256 529.5h2M253 530.5h3M251 531.5h2M248 532.5h3M246 533.5h2M243 534.5h3M241 535.5h2M238 536.5h3M236 537.5h2M233 538.5h3M231 539.5h2M230 540.5h1" fill="none" stroke="#ff0000" stroke-width="1"/>
<path d="M1654 157.5h2M1651 158.5h3M1648 159.5h3M1645 160.5h3M1642 161.5h3M1639 162.5h3M1636 163.5h3M1633 164.5h3M1629 165.5h4M1626 166.5h3M1623 167.5h3M1620 168.5h3M1616 169.5h4M1613 170.5h3M1610 171.5h3M1606 172.5h4M1603 173.5h3M1600 174.5h3M1596 175.5h4M1593 176.5h3M1590 177.5h3M1588 178.5h2M1585 179.5h3M1582 180.5h3M1580 181.5h2M1577 182.5h3M1574 183.5h3M1571 184.5h3M1567 185.5h4M1563 186.5h4M1558 187.5h5M1554 188.5h4M1550 189.5h4M1546 190.5h4M1541 191.5h5M1536 192.5h5M1532 193.5h4M1528 194.5h4M1525 195.5h3M1522 196.5h3M1520 197.5h2M1518 198.5h2M1516 199.5h2M1514 200.5h2M1512 201.5h2M1510 202.5h2M1508 203.5h2M1507 204.5h1M1505 205.5h2M1503 206.5h2M436 207.5h8M1501 207.5h2M432 208.5h4M444 208.5h3M484 208.5h20M1500 208.5h1M429 209.5h3M447 209.5h37M504 209.5h7M1498 209.5h2M426 210.5h3M511 210.5h4M1496 210.5h2M423 211.5h3M515 211.5h3M1494 211.5h2M421 212.5h2M518 212.5h4M1492 212.5h2M418 213.5h3M522 213.5h3M1490 213.5h2M415 214.5h3M525 214.5h3M1489 214.5h1M412 215.5h3M528 215.5h3M637 215.5h8M1487 215.5h2M410 216.5h2M531 216.5h4M619 216.5h18M645 216.5h12M1485 216.5h2M407 217.5h3M535 217.5h3M600 217.5h19M657 217.5h6M1483 217.5h2M405 218.5h2M538 218.5h4M557 218.5h43M663 218.5h4M1482 218.5h1M403 219.5h2M542 219.5h15M667 219.5h3M1480 219.5h2M402 220.5h1M670 220.5h4M1478 220.5h2M400 221.5h2M674 221.5h3M1476 221.5h2M399 222.5h1M677 222.5h3M1474 222.5h2M397 223.5h2M680 223.5h3M1472 223.5h2M396 224.5h1M683 224.5h4M1471 224.5h1M395 225.5h1M687 225.5h3M1469 225.5h2M393 226.5h2M690 226.5h3M1466 226.5h3M392 227.5h1M693 227.5h3M1464 227.5h2M390 228.5h2M696 228.5h3M1462 228.5h2M388 229.5h2M699 229.5h3M1460 229.5h2M387 230.5h1M702 230.5h3M1458 230.5h2M385 231.5h2M705 231.5h3M1455 231.5h3M383 232.5h2M708 232.5h4M1453 232.5h2M382 233.5h1M712 233.5h5M1451 233.5h2M380 234.5h2M717 234.5h4M1449 234.5h2M378 235.5h2M721 235.5h4M1447 235.5h2M377 236.5h1M725 236.5h3M1444 236.5h3M375 237.5h2M728 237.5h2M1443 237.5h1M374 238.5h1M730 238.5h3M1441 238.5h2M372 239.5h2M733 239.5h2M1439 239.5h2M370 240.5h2M735 240.5h2M1437 240.5h2M369 241.5h1M737 241.5h2M1435 241.5h2M367 242.5h2M739 242.5h2M1433 242.5h2M366 243.5h1M741 243.5h2M1431 243.5h2M364 244.5h2M743 244.5h2M1430 244.5h1M363 245.5h1M745 245.5h2M1428 245.5h2M361 246.5h2M747 246.5h2M1426 246.5h2M360 247.5h1M749 247.5h1M1423 247.5h3M358 248.5h2M750 248.5h2M1421 248.5h2M357 249.5h1M752 249.5h1M1418 249.5h3M355 250.5h2M753 250.5h2M1415 250.5h3M354 251.5h1M755 251.5h2M1412 251.5h3M352 252.5h2M757 252.5h2M1409 252.5h3M350 253.5h2M759 253.5h2M1405 253.5h4M349 254.5h1M761 254.5h3M1400 254.5h5M347 255.5h2M764 255.5h2M1396 255.5h4M346 256.5h1M766 256.5h3M1393 256.5h3M344 257.5h2M769 257.5h3M1390 257.5h3M343 258.5h1M772 258.5h3M1387 258.5h3M341 259.5h2M775 259.5h2M1384 259.5h3M340 260.5h1M777 260.5h3M1381 260.5h3M338 261.5h2M780 261.5h2M1378 261.5h3M336 262.5h2M782 262.5h3M1376 262.5h2M335 263.5h1M785 263.5h2M1373 263.5h3M333 264.5h2M787 264.5h3M1371 264.5h2M332 265.5h1M790 265.5h2M1368 265.5h3M330 266.5h2M792 266.5h2M1366 266.5h2M329 267.5h1M794 267.5h3M1364 267.5h2M328 268.5h1M797 268.5h1M1362 268.5h2M326 269.5h2M798 269.5h2M1360 269.5h2M325 270.5h1M800 270.5h1M1358 270.5h2M323 271.5h2M801 271.5h1M1357 271.5h1M322 272.5h1M802 272.5h2M1355 272.5h2M320 273.5h2M804 273.5h2M1353 273.5h2M319 274.5h1M806 274.5h2M978 274.5h7M1351 274.5h2M318 275.5h1M808 275.5h3M975 275.5h3M985 275.5h4M1349 275.5h2M316 276.5h2M811 276.5h3M972 276.5h3M989 276.5h3M1347 276.5h2M315 277.5h1M814 277.5h4M969 277.5h3M992 277.5h3M1344 277.5h3M314 278.5h1M818 278.5h4M967 278.5h2M995 278.5h3M1341 278.5h3M312 279.5h2M822 279.5h4M964 279.5h3M998 279.5h2M1337 279.5h4M311 280.5h1M826 280.5h4M961 280.5h3M1000 280.5h3M1334 280.5h3M310 281.5h1M830 281.5h5M958 281.5h3M1003 281.5h3M1331 281.5h3M309 282.5h1M835 282.5h5M954 282.5h4M1006 282.5h2M1329 282.5h2M308 283.5h1M840 283.5h8M895 283.5h12M951 283.5h3M1008 283.5h3M1327 283.5h2M306 284.5h2M848 284.5h8M881 284.5h14M907 284.5h10M947 284.5h4M1011 284.5h3M1326 284.5h1M305 285.5h1M856 285.5h10M875 285.5h6M917 285.5h3M942 285.5h5M1014 285.5h2M1323 285.5h3M304 286.5h1M866 286.5h9M920 286.5h8M934 286.5h8M1016 286.5h3M1321 286.5h2M303 287.5h1M928 287.5h6M1019 287.5h3M1315 287.5h6M301 288.5h2M1022 288.5h3M1308 288.5h7M300 289.5h1M1025 289.5h2M1300 289.5h8M298 290.5h2M1027 290.5h3M1294 290.5h6M297 291.5h1M1030 291.5h3M1289 291.5h5M296 292.5h1M1033 292.5h3M1284 292.5h5M294 293.5h2M1036 293.5h3M1280 293.5h4M293 294.5h1M1039 294.5h3M1274 294.5h6M291 295.5h2M1042 295.5h4M1266 295.5h8M290 296.5h1M1046 296.5h5M1256 296.5h10M288 297.5h2M1051 297.5h4M1244 297.5h12M287 298.5h1M1055 298.5h5M1231 298.5h13M285 299.5h2M1060 299.5h3M1221 299.5h10M284 300.5h1M1063 300.5h3M1214 300.5h7M283 301.5h1M1066 301.5h4M1209 301.5h5M281 302.5h2M1070 302.5h3M1204 302.5h5M280 303.5h1M1073 303.5h3M1199 303.5h5M278 304.5h2M1076 304.5h4M1195 304.5h4M277 305.5h1M1080 305.5h4M1190 305.5h5M276 306.5h1M1084 306.5h6M1186 306.5h4M274 307.5h2M1090 307.5h45M1181 307.5h5M273 308.5h1M1135 308.5h27M1175 308.5h6M271 309.5h2M1162 309.5h13M270 310.5h1M269 311.5h1M267 312.5h2M266 313.5h1M265 314.5h1M264 315.5h1M262 316.5h2M261 317.5h1M260 318.5h1M258 319.5h2M257 320.5h1M256 321.5h1M254 322.5h2M253 323.5h1M251 324.5h2M250 325.5h1M249 326.5h1M247 327.5h2M246 328.5h1M245 329.5h1M243 330.5h2M242 331.5h1M240 332.5h2M239 333.5h1M238 334.5h1M236 335.5h2M235 336.5h1M233 337.5h2M232 338.5h1M230 339.5h2M229 340.5h1M228 341.5h1M226 342.5h2M224 343.5h2M223 344.5h1M221 345.5h2M220 346.5h1M218 347.5h2M216 348.5h2M215 349.5h1M213 350.5h2M211 351.5h2M209 352.5h2M207 353.5h2M204 354.5h3M202 355.5h2M200 356.5h2M198 357.5h2M196 358.5h2M195 359.5h1M193 360.5h2M191 361.5h2M190 362.5h1M188 363.5h2M186 364.5h2M185 365.5h1M183 366.5h2M182 367.5h1M180 368.5h2M179 369.5h1M177 370.5h2M176 371.5h1M174 372.5h2M173 373.5h1M171 374.5h2M170 375.5h1M168 376.5h2M167 377.5h1M166 378.5h1M164 379.5h2M163 380.5h1M161 381.5h2M160 382.5h1M159 383.5h1M157 384.5h2M156 385.5h1M154 386.5h2M153 387.5h1M151 388.5h2M150 389.5h1M148 390.5h2M146 391.5h2M145 392.5h1M143 393.5h2M141 394.5h2M139 395.5h2M137 396.5h2M136 397.5h1M134 398.5h2M132 399.5h2M129 400.5h3M127 401.5h2M125 402.5h2M123 403.5h2M121 404.5h2M119 405.5h2M117 406.5h2M114 407.5h3M112 408.5h2M110 409.5h2M108 410.5h2M105 411.5h3M103 412.5h2M101 413.5h2M99 414.5h2M96 415.5h3M94 416.5h2M92 417.5h2M89 418.5h3M87 419.5h2M84 420.5h3M82 421.5h2M79 422.5h3M76 423.5h3M73 424.5h3M70 425.5h3M68 426.5h2M65 427.5h3M62 428.5h3M60 429.5h2M57 430.5h3M55 431.5h2M52 432.5h3M50 433.5h2M47 434.5h3M45 435.5h2M42 436.5h3M40 437.5h2M37 438.5h3M35 439.5h2M32 440.5h3M29 441.5h3M27 442.5h2M24 443.5h3M21 444.5h3M19 445.5h2M16 446.5h3M13 447.5h3M10 448.5h3M8 449.5h2M5 450.5h3M2 451.5h3M0 452.5h2" fill="none" stroke="#ff00ff" stroke-width="1"/>
<path d="M232.5 263v2M235.5 259v2M238.5 255v2M240.5 252v2M243.5 248v2M248.5 242v2M253.5 236v2M258.5 230v2M262.5 225v2M266.5 220v2M271.5 214v2M276.5 208v2M281.5 202v2M291.5 191v2M378.5 106v2M430.5 107v2M439.5 117v2M442.5 121v2M443.5 123v2M444.5 125v2M446.5 128v2M447.5 130v2M449.5 133v2M451.5 136v2M452.5 138v2M454.5 141v2M456.5 144v2M458.5 147v2M459.5 149v2M461.5 152v2M463.5 155v2M464.5 157v2M466.5 160v2M468.5 163v2M469.5 165v2M471.5 168v2M472.5 170v2M474.5 173v2M475.5 175v2M477.5 178v2M478.5 180v2M480.5 183v2M482.5 186v2M483.5 188v2M485.5 191v2M486.5 193v2M488.5 196v2M489.5 198v2M491.5 201v2M492.5 203v2M494.5 206v2M495.5 208v2M497.5 211v2M498.5 213v2M500.5 216v2M501.5 218v2M503.5 221v2M504.5 223v2M506.5 226v2M507.5 228v2M509.5 231v2M510.5 233v2M511.5 235v2M512.5 237v2M513.5 239v2M514.5 241v2M515.5 243v2M516.5 245v2M517.5 247v2M518.5 249v2M519.5 251v2M520.5 253v2M521.5 255v2M522.5 257v3M523.5 260v2M524.5 262v2M525.5 264v3M526.5 267v2M527.5 269v3M528.5 272v2M529.5 274v3M530.5 277v2M531.5 279v3M532.5 282v2M533.5 284v2M534.5 286v3M535.5 289v2M536.5 291v2M537.5 293v2M538.5 295v2M539.5 297v2M541.5 300v2M542.5 302v2M543.5 304v2M544.5 306v2M546.5 309v2M547.5 311v2M549.5 314v2M551.5 317v2M624.5 320v2M690.5 276v2M693.5 272v2M696.5 268v2M698.5 265v2M702.5 260v2M985.5 304v2M989.5 309v2M992.5 313v2M994.5 316v2M997.5 320v2M1000.5 324v2M1004.5 329v2M1008.5 334v2M1165.5 325v2M1171.5 318v2M1174.5 314v2M1177.5 310v2M1179.5 307v2M1183.5 302v2M398 94.5h8M395 95.5h3M406 95.5h3M393 96.5h2M409 96.5h2M391 97.5h2M411 97.5h3M390 98.5h1M414 98.5h2M388 99.5h2M416 99.5h3M386 100.5h2M419 100.5h2M385 101.5h1M421 101.5h3M383 102.5h2M424 102.5h1M382 103.5h1M425 103.5h2M381 104.5h1M427 104.5h1M379 105.5h2M428 105.5h1M429 106.5h1M377 108.5h1M376 109.5h1M431 109.5h1M375 110.5h1M432 110.5h1M374 111.5h1M433 111.5h1M373 112.5h1M434 112.5h1M372 113.5h1M435 113.5h1M371 114.5h1M436 114.5h1M370 115.5h1M437 115.5h1M369 116.5h1M438 116.5h1M368 117.5h1M1653 117.5h3M367 118.5h1M1650 118.5h3M366 119.5h1M440 119.5h1M1647 119.5h3M365 120.5h1M441 120.5h1M1645 120.5h2M364 121.5h1M1642 121.5h3M363 122.5h1M1640 122.5h2M362 123.5h1M1638 123.5h2M361 124.5h1M1637 124.5h1M360 125.5h1M1635 125.5h2M359 126.5h1M1634 126.5h1M358 127.5h1M445 127.5h1M1633 127.5h1M357 128.5h1M1632 128.5h1M356 129.5h1M1631 129.5h1M355 130.5h1M1629 130.5h2M354 131.5h1M1628 131.5h1M353 132.5h1M448 132.5h1M1627 132.5h1M352 133.5h1M1625 133.5h2M351 134.5h1M1624 134.5h1M349 135.5h2M450 135.5h1M1623 135.5h1M348 136.5h1M1622 136.5h1M347 137.5h1M1620 137.5h2M346 138.5h1M1619 138.5h1M345 139.5h1M1618 139.5h1M344 140.5h1M453 140.5h1M1617 140.5h1M343 141.5h1M1616 141.5h1M342 142.5h1M1614 142.5h2M341 143.5h1M455 143.5h1M1613 143.5h1M339 144.5h2M1612 144.5h1M338 145.5h1M1611 145.5h1M337 146.5h1M457 146.5h1M1610 146.5h1M336 147.5h1M1608 147.5h2M335 148.5h1M1606 148.5h2M334 149.5h1M1605 149.5h1M333 150.5h1M1603 150.5h2M331 151.5h2M460 151.5h1M1601 151.5h2M330 152.5h1M1599 152.5h2M329 153.5h1M1597 153.5h2M328 154.5h1M462 154.5h1M1595 154.5h2M327 155.5h1M1594 155.5h1M326 156.5h1M1593 156.5h1M325 157.5h1M1592 157.5h1M324 158.5h1M1591 158.5h1M323 159.5h1M465 159.5h1M1590 159.5h1M322 160.5h1M1589 160.5h1M321 161.5h1M1588 161.5h1M320 162.5h1M467 162.5h1M1541 162.5h7M1586 162.5h2M319 163.5h1M1530 163.5h11M1548 163.5h6M1585 163.5h1M318 164.5h1M1528 164.5h2M1554 164.5h8M1582 164.5h3M317 165.5h1M1526 165.5h2M1562 165.5h20M316 166.5h1M1524 166.5h2M315 167.5h1M470 167.5h1M1522 167.5h2M314 168.5h1M1521 168.5h1M313 169.5h1M1520 169.5h1M312 170.5h1M1518 170.5h2M311 171.5h1M1412 171.5h9M1516 171.5h2M310 172.5h1M473 172.5h1M1409 172.5h3M1421 172.5h3M1515 172.5h1M309 173.5h1M1407 173.5h2M1424 173.5h2M1513 173.5h2M308 174.5h1M1404 174.5h3M1426 174.5h2M1511 174.5h2M307 175.5h1M1402 175.5h2M1428 175.5h4M1509 175.5h2M306 176.5h1M1400 176.5h2M1432 176.5h7M1507 176.5h2M305 177.5h1M476 177.5h1M1397 177.5h3M1439 177.5h7M1505 177.5h2M304 178.5h1M1395 178.5h2M1446 178.5h5M1503 178.5h2M303 179.5h1M1393 179.5h2M1451 179.5h3M1501 179.5h2M302 180.5h1M1390 180.5h3M1454 180.5h2M1498 180.5h3M301 181.5h1M1388 181.5h2M1456 181.5h2M1494 181.5h4M300 182.5h1M479 182.5h1M1386 182.5h2M1458 182.5h1M1491 182.5h3M299 183.5h1M1384 183.5h2M1459 183.5h2M1487 183.5h4M298 184.5h1M1381 184.5h3M1461 184.5h2M1483 184.5h4M297 185.5h1M481 185.5h1M1379 185.5h2M1463 185.5h1M1479 185.5h4M296 186.5h1M1375 186.5h4M1464 186.5h3M1475 186.5h4M295 187.5h1M1371 187.5h4M1467 187.5h8M294 188.5h1M1363 188.5h8M293 189.5h1M1353 189.5h10M292 190.5h1M484 190.5h1M1342 190.5h11M1330 191.5h12M1327 192.5h3M290 193.5h1M1324 193.5h3M289 194.5h1M1322 194.5h2M288 195.5h1M487 195.5h1M1320 195.5h2M287 196.5h1M1318 196.5h2M286 197.5h1M1317 197.5h1M285 198.5h1M1315 198.5h2M284 199.5h1M1313 199.5h2M283 200.5h1M490 200.5h1M1311 200.5h2M282 201.5h1M1309 201.5h2M1307 202.5h2M1305 203.5h2M280 204.5h1M1303 204.5h2M279 205.5h1M493 205.5h1M1301 205.5h2M278 206.5h1M1299 206.5h2M277 207.5h1M1297 207.5h2M1295 208.5h2M1294 209.5h1M275 210.5h1M496 210.5h1M1292 210.5h2M274 211.5h1M1291 211.5h1M273 212.5h1M1290 212.5h1M272 213.5h1M1288 213.5h2M1287 214.5h1M499 215.5h1M1286 215.5h1M270 216.5h1M1285 216.5h1M269 217.5h1M1284 217.5h1M268 218.5h1M1283 218.5h1M267 219.5h1M1282 219.5h1M502 220.5h1M1281 220.5h1M1279 221.5h2M265 222.5h1M1278 222.5h1M264 223.5h1M1277 223.5h1M263 224.5h1M1276 224.5h1M505 225.5h1M1275 225.5h1M1274 226.5h1M261 227.5h1M1273 227.5h1M260 228.5h1M1272 228.5h1M259 229.5h1M1271 229.5h1M508 230.5h1M1270 230.5h1M1269 231.5h1M257 232.5h1M1267 232.5h2M256 233.5h1M1266 233.5h1M255 234.5h1M1265 234.5h1M254 235.5h1M1264 235.5h1M1263 236.5h1M1262 237.5h1M252 238.5h1M1261 238.5h1M251 239.5h1M1260 239.5h1M250 240.5h1M1259 240.5h1M249 241.5h1M1257 241.5h2M1256 242.5h1M1255 243.5h1M247 244.5h1M726 244.5h13M1254 244.5h1M246 245.5h1M723 245.5h3M739 245.5h6M1253 245.5h1M245 246.5h1M720 246.5h3M745 246.5h3M1252 246.5h1M244 247.5h1M718 247.5h2M748 247.5h2M1251 247.5h1M716 248.5h2M750 248.5h1M1250 248.5h1M714 249.5h2M751 249.5h2M1249 249.5h1M242 250.5h1M712 250.5h2M753 250.5h1M1248 250.5h1M241 251.5h1M711 251.5h1M754 251.5h1M1247 251.5h1M710 252.5h1M755 252.5h2M1246 252.5h1M709 253.5h1M757 253.5h1M856 253.5h22M1244 253.5h2M239 254.5h1M708 254.5h1M758 254.5h2M847 254.5h9M878 254.5h2M1243 254.5h1M707 255.5h1M760 255.5h3M843 255.5h4M880 255.5h2M1242 255.5h1M706 256.5h1M763 256.5h2M840 256.5h3M882 256.5h1M1241 256.5h1M237 257.5h1M705 257.5h1M765 257.5h3M837 257.5h3M883 257.5h1M1240 257.5h1M236 258.5h1M704 258.5h1M768 258.5h2M835 258.5h2M884 258.5h2M1239 258.5h1M703 259.5h1M770 259.5h3M833 259.5h2M886 259.5h1M1237 259.5h2M773 260.5h3M830 260.5h3M887 260.5h2M1235 260.5h2M234 261.5h1M776 261.5h2M828 261.5h2M889 261.5h1M1234 261.5h1M233 262.5h1M701 262.5h1M778 262.5h3M826 262.5h2M890 262.5h1M1232 262.5h2M700 263.5h1M781 263.5h3M824 263.5h2M891 263.5h1M1230 263.5h2M699 264.5h1M784 264.5h2M822 264.5h2M892 264.5h2M1228 264.5h2M231 265.5h1M786 265.5h3M820 265.5h2M894 265.5h1M1226 265.5h2M230 266.5h1M789 266.5h3M819 266.5h1M895 266.5h1M1224 266.5h2M229 267.5h1M697 267.5h1M792 267.5h4M817 267.5h2M896 267.5h2M1223 267.5h1M228 268.5h1M796 268.5h21M898 268.5h1M1221 268.5h2M227 269.5h1M899 269.5h1M1220 269.5h1M226 270.5h1M695 270.5h1M900 270.5h2M1218 270.5h2M225 271.5h1M694 271.5h1M902 271.5h2M1217 271.5h1M224 272.5h1M904 272.5h1M1215 272.5h2M223 273.5h1M905 273.5h2M1214 273.5h1M222 274.5h1M692 274.5h1M907 274.5h1M1212 274.5h2M221 275.5h1M691 275.5h1M908 275.5h2M1211 275.5h1M220 276.5h1M910 276.5h2M1210 276.5h1M218 277.5h2M912 277.5h2M1208 277.5h2M217 278.5h1M689 278.5h1M914 278.5h2M1207 278.5h1M216 279.5h1M688 279.5h1M916 279.5h2M1206 279.5h1M214 280.5h2M687 280.5h1M918 280.5h3M1205 280.5h1M213 281.5h1M686 281.5h1M921 281.5h2M1204 281.5h1M212 282.5h1M685 282.5h1M923 282.5h3M1203 282.5h1M210 283.5h2M684 283.5h1M926 283.5h3M1202 283.5h1M209 284.5h1M683 284.5h1M929 284.5h4M1201 284.5h1M207 285.5h2M681 285.5h2M933 285.5h4M1200 285.5h1M206 286.5h1M680 286.5h1M937 286.5h6M1199 286.5h1M204 287.5h2M679 287.5h1M943 287.5h13M1198 287.5h1M202 288.5h2M678 288.5h1M956 288.5h6M1197 288.5h1M200 289.5h2M676 289.5h2M962 289.5h3M1196 289.5h1M199 290.5h1M675 290.5h1M965 290.5h3M1195 290.5h1M197 291.5h2M674 291.5h1M968 291.5h2M1194 291.5h1M195 292.5h2M673 292.5h1M970 292.5h2M1193 292.5h1M194 293.5h1M671 293.5h2M972 293.5h1M1192 293.5h1M192 294.5h2M670 294.5h1M973 294.5h2M1191 294.5h1M191 295.5h1M668 295.5h2M975 295.5h1M1190 295.5h1M189 296.5h2M666 296.5h2M976 296.5h2M1189 296.5h1M188 297.5h1M665 297.5h1M978 297.5h1M1188 297.5h1M186 298.5h2M662 298.5h3M979 298.5h1M1187 298.5h1M185 299.5h1M540 299.5h1M660 299.5h2M980 299.5h1M1186 299.5h1M183 300.5h2M657 300.5h3M981 300.5h1M1185 300.5h1M182 301.5h1M654 301.5h3M982 301.5h1M1184 301.5h1M181 302.5h1M652 302.5h2M983 302.5h1M179 303.5h2M649 303.5h3M984 303.5h1M178 304.5h1M647 304.5h2M1182 304.5h1M176 305.5h2M645 305.5h2M1181 305.5h1M175 306.5h1M643 306.5h2M986 306.5h1M1180 306.5h1M173 307.5h2M641 307.5h2M987 307.5h1M171 308.5h2M545 308.5h1M640 308.5h1M988 308.5h1M168 309.5h3M638 309.5h2M1178 309.5h1M166 310.5h2M636 310.5h2M164 311.5h2M635 311.5h1M990 311.5h1M163 312.5h1M633 312.5h2M991 312.5h1M1176 312.5h1M161 313.5h2M548 313.5h1M632 313.5h1M1175 313.5h1M160 314.5h1M631 314.5h1M159 315.5h1M629 315.5h2M993 315.5h1M158 316.5h1M550 316.5h1M628 316.5h1M1173 316.5h1M157 317.5h1M627 317.5h1M1172 317.5h1M156 318.5h1M626 318.5h1M995 318.5h1M155 319.5h1M552 319.5h1M625 319.5h1M996 319.5h1M154 320.5h1M553 320.5h1M1170 320.5h1M153 321.5h1M554 321.5h1M1169 321.5h1M152 322.5h1M555 322.5h1M623 322.5h1M998 322.5h1M1168 322.5h1M151 323.5h1M556 323.5h1M622 323.5h1M999 323.5h1M1167 323.5h1M150 324.5h1M557 324.5h1M621 324.5h1M1166 324.5h1M149 325.5h1M558 325.5h1M620 325.5h1M148 326.5h1M559 326.5h1M619 326.5h1M1001 326.5h1M147 327.5h1M560 327.5h2M618 327.5h1M1002 327.5h1M1164 327.5h1M146 328.5h1M562 328.5h1M617 328.5h1M1003 328.5h1M1163 328.5h1M145 329.5h1M563 329.5h2M616 329.5h1M1162 329.5h1M144 330.5h1M565 330.5h2M615 330.5h1M1161 330.5h1M143 331.5h1M567 331.5h1M613 331.5h2M1005 331.5h1M1160 331.5h1M141 332.5h2M568 332.5h2M612 332.5h1M1006 332.5h1M1159 332.5h1M140 333.5h1M570 333.5h2M611 333.5h1M1007 333.5h1M1158 333.5h1M139 334.5h1M572 334.5h2M610 334.5h1M1157 334.5h1M138 335.5h1M574 335.5h2M608 335.5h2M1156 335.5h1M137 336.5h1M576 336.5h3M607 336.5h1M1009 336.5h1M1155 336.5h1M136 337.5h1M579 337.5h3M605 337.5h2M1010 337.5h1M1153 337.5h2M135 338.5h1M582 338.5h3M603 338.5h2M1011 338.5h1M1152 338.5h1M133 339.5h2M585 339.5h6M599 339.5h4M1012 339.5h1M1151 339.5h1M132 340.5h1M591 340.5h8M1013 340.5h1M1149 340.5h2M131 341.5h1M1014 341.5h1M1148 341.5h1M129 342.5h2M1015 342.5h1M1146 342.5h2M128 343.5h1M1016 343.5h2M1144 343.5h2M126 344.5h2M1018 344.5h1M1142 344.5h2M125 345.5h1M1019 345.5h1M1140 345.5h2M123 346.5h2M1020 346.5h1M1137 346.5h3M121 347.5h2M1021 347.5h1M1134 347.5h3M119 348.5h2M1022 348.5h2M1131 348.5h3M117 349.5h2M1024 349.5h1M1123 349.5h8M115 350.5h2M1025 350.5h1M1109 350.5h14M113 351.5h2M1026 351.5h1M1104 351.5h5M111 352.5h2M1027 352.5h1M1100 352.5h4M108 353.5h3M1028 353.5h1M1097 353.5h3M106 354.5h2M1029 354.5h1M1095 354.5h2M102 355.5h4M1030 355.5h1M1094 355.5h1M98 356.5h4M1031 356.5h1M1092 356.5h2M91 357.5h7M1032 357.5h1M1091 357.5h1M82 358.5h9M1033 358.5h1M1089 358.5h2M76 359.5h6M1034 359.5h1M1088 359.5h1M70 360.5h6M1035 360.5h2M1086 360.5h2M66 361.5h4M1037 361.5h1M1084 361.5h2M62 362.5h4M1038 362.5h1M1081 362.5h3M59 363.5h3M1039 363.5h2M1078 363.5h3M56 364.5h3M1041 364.5h1M1061 364.5h17M54 365.5h2M1042 365.5h2M1054 365.5h7M51 366.5h3M1044 366.5h10M47 367.5h4M44 368.5h3M41 369.5h3M38 370.5h3M34 371.5h4M31 372.5h3M28 373.5h3M26 374.5h2M24 375.5h2M22 376.5h2M20 377.5h2M18 378.5h2M16 379.5h2M13 380.5h3M10 381.5h3M7 382.5h3M4 383.5h3M1 384.5h3M0 385.5h1" fill="none" stroke="#ffa500" stroke-width="1"/>
<rect x="0" y="419" width="1676" height="2" fill="#4169e1"/>
<rect x="0" y="228" width="1676" height="2" fill="#4169e1"/>
<rect x="0" y="78" width="1675" height="2" fill="#32cd32"/>
</g>
<rect x="-1" y="76" width="6" height="6" fill="#32cd32"/>
<rect x="1" y="78" width="2" height="2" fill="#fff"/>
<rect x="1669" y="76" width="6" height="6" fill="#32cd32"/>
<rect x="1671" y="78" width="2" height="2" fill="#fff"/>
<rect x="-1" y="226" width="6" height="6" fill="#4169e1"/>
<rect x="1" y="228" width="2" height="2" fill="#fff"/>
<rect x="1669" y="226" width="6" height="6" fill="#4169e1"/>
<rect x="1671" y="228" width="2" height="2" fill="#fff"/>
<rect x="0" y="575" width="1" height="19" fill="#c0c0c0"/>
<rect x="8" y="573" width="1" height="21" fill="#c0c0c0"/>
<rect x="16" y="576" width="1" height="18" fill="#c0c0c0"/>
<rect x="24" y="576" width="1" height="18" fill="#c0c0c0"/>
<rect x="32" y="576" width="1" height="18" fill="#c0c0c0"/>
<rect x="40" y="576" width="1" height="18" fill="#c0c0c0"/>
<rect x="48" y="576" width="1" height="18" fill="#c0c0c0"/>
<rect x="56" y="577" width="1" height="17" fill="#c0c0c0"/>
<rect x="64" y="578" width="1" height="16" fill="#c0c0c0"/>
<rect x="72" y="578" width="1" height="16" fill="#c0c0c0"/>
<rect x="80" y="578" width="1" height="16" fill="#c0c0c0"/>
<rect x="88" y="578" width="1" height="16" fill="#c0c0c0"/>
<rect x="96" y="577" width="1" height="17" fill="#c0c0c0"/>
<rect x="104" y="576" width="1" height="18" fill="#c0c0c0"/>
<rect x="112" y="573" width="1" height="21" fill="#c0c0c0"/>
<rect x="120" y="571" width="1" height="23" fill="#c0c0c0"/>
<rect x="128" y="570" width="1" height="24" fill="#c0c0c0"/>
<rect x="136" y="569" width="1" height="25" fill="#c0c0c0"/>
<rect x="144" y="566" width="1" height="28" fill="#c0c0c0"/>
<rect x="152" y="563" width="1" height="31" fill="#c0c0c0"/>
<rect x="160" y="562" width="1" height="32" fill="#c0c0c0"/>
<rect x="168" y="562" width="1" height="32" fill="#c0c0c0"/>
<rect x="176" y="562" width="1" height="32" fill="#c0c0c0"/>
<rect x="184" y="563" width="1" height="31" fill="#c0c0c0"/>
<rect x="192" y="564" width="1" height="30" fill="#c0c0c0"/>
<rect x="200" y="565" width="1" height="29" fill="#c0c0c0"/>
<rect x="208" y="566" width="1" height="28" fill="#c0c0c0"/>
<rect x="216" y="565" width="1" height="29" fill="#c0c0c0"/>
<rect x="224" y="564" width="1" height="30" fill="#c0c0c0"/>
<rect x="232" y="564" width="1" height="30" fill="#c0c0c0"/>
<rect x="240" y="557" width="1" height="37" fill="#c0c0c0"/>
<rect x="248" y="553" width="1" height="41" fill="#c0c0c0"/>
<rect x="256" y="551" width="1" height="43" fill="#c0c0c0"/>
<rect x="264" y="548" width="1" height="46" fill="#c0c0c0"/>
<rect x="272" y="547" width="1" height="47" fill="#c0c0c0"/>
<rect x="280" y="548" width="1" height="46" fill="#c0c0c0"/>
<rect x="288" y="547" width="1" height="47" fill="#c0c0c0"/>
<rect x="296" y="546" width="1" height="48" fill="#c0c0c0"/>
<rect x="304" y="544" width="1" height="50" fill="#c0c0c0"/>
<rect x="312" y="544" width="1" height="50" fill="#c0c0c0"/>
<rect x="320" y="545" width="1" height="49" fill="#c0c0c0"/>
<rect x="328" y="546" width="1" height="48" fill="#c0c0c0"/>
<rect x="336" y="550" width="1" height="44" fill="#c0c0c0"/>
<rect x="344" y="553" width="1" height="41" fill="#c0c0c0"/>
<rect x="352" y="555" width="1" height="39" fill="#c0c0c0"/>
<rect x="360" y="556" width="1" height="38" fill="#c0c0c0"/>
<rect x="368" y="557" width="1" height="37" fill="#c0c0c0"/>
<rect x="376" y="558" width="1" height="36" fill="#c0c0c0"/>
<rect x="384" y="560" width="1" height="34" fill="#c0c0c0"/>
<rect x="392" y="564" width="1" height="30" fill="#c0c0c0"/>
<rect x="400" y="568" width="1" height="26" fill="#c0c0c0"/>
<rect x="408" y="574" width="1" height="20" fill="#c0c0c0"/>
<rect x="416" y="580" width="1" height="14" fill="#c0c0c0"/>
<rect x="424" y="588" width="1" height="6" fill="#c0c0c0"/>
<rect x="432" y="593" width="1" height="1" fill="#c0c0c0"/>
<rect x="440" y="593" width="1" height="11" fill="#c0c0c0"/>
<rect x="448" y="593" width="1" height="26" fill="#c0c0c0"/>
<rect x="456" y="593" width="1" height="35" fill="#c0c0c0"/>
<rect x="464" y="593" width="1" height="40" fill="#c0c0c0"/>
<rect x="472" y="593" width="1" height="43" fill="#c0c0c0"/>
<rect x="480" y="593" width="1" height="45" fill="#c0c0c0"/>
<rect x="488" y="593" width="1" height="46" fill="#c0c0c0"/>
<rect x="496" y="593" width="1" height="47" fill="#c0c0c0"/>
<rect x="504" y="593" width="1" height="48" fill="#c0c0c0"/>
<rect x="512" y="593" width="1" height="52" fill="#c0c0c0"/>
<rect x="520" y="593" width="1" height="55" fill="#c0c0c0"/>
<rect x="528" y="593" width="1" height="61" fill="#c0c0c0"/>
<rect x="536" y="593" width="1" height="62" fill="#c0c0c0"/>
<rect x="544" y="593" width="1" height="59" fill="#c0c0c0"/>
<rect x="552" y="593" width="1" height="50" fill="#c0c0c0"/>
<rect x="560" y="593" width="1" height="39" fill="#c0c0c0"/>
<rect x="568" y="593" width="1" height="28" fill="#c0c0c0"/>
<rect x="576" y="593" width="1" height="21" fill="#c0c0c0"/>
<rect x="584" y="593" width="1" height="14" fill="#c0c0c0"/>
<rect x="592" y="593" width="1" height="7" fill="#c0c0c0"/>
<rect x="600" y="593" width="1" height="2" fill="#c0c0c0"/>
<rect x="608" y="591" width="1" height="3" fill="#c0c0c0"/>
<rect x="616" y="590" width="1" height="4" fill="#c0c0c0"/>
<rect x="624" y="585" width="1" height="9" fill="#c0c0c0"/>
<rect x="632" y="583" width="1" height="11" fill="#c0c0c0"/>
<rect x="640" y="582" width="1" height="12" fill="#c0c0c0"/>
<rect x="648" y="584" width="1" height="10" fill="#c0c0c0"/>
<rect x="656" y="586" width="1" height="8" fill="#c0c0c0"/>
<rect x="664" y="589" width="1" height="5" fill="#c0c0c0"/>
<rect x="672" y="589" width="1" height="5" fill="#c0c0c0"/>
<rect x="680" y="591" width="1" height="3" fill="#c0c0c0"/>
<rect x="688" y="592" width="1" height="2" fill="#c0c0c0"/>
<rect x="696" y="591" width="1" height="3" fill="#c0c0c0"/>
<rect x="704" y="590" width="1" height="4" fill="#c0c0c0"/>
<rect x="712" y="590" width="1" height="4" fill="#c0c0c0"/>
<rect x="720" y="588" width="1" height="6" fill="#c0c0c0"/>
<rect x="728" y="586" width="1" height="8" fill="#c0c0c0"/>
<rect x="736" y="585" width="1" height="9" fill="#c0c0c0"/>
<rect x="744" y="588" width="1" height="6" fill="#c0c0c0"/>
<rect x="752" y="593" width="1" height="1" fill="#c0c0c0"/>
<rect x="760" y="593" width="1" height="4" fill="#c0c0c0"/>
<rect x="768" y="593" width="1" height="5" fill="#c0c0c0"/>
<rect x="776" y="593" width="1" height="6" fill="#c0c0c0"/>
<rect x="784" y="593" width="1" height="6" fill="#c0c0c0"/>
<rect x="792" y="593" width="1" height="5" fill="#c0c0c0"/>
<rect x="800" y="593" width="1" height="2" fill="#c0c0c0"/>
<rect x="808" y="593" width="1" height="1" fill="#c0c0c0"/>
<rect x="816" y="592" width="1" height="2" fill="#c0c0c0"/>
<rect x="824" y="588" width="1" height="6" fill="#c0c0c0"/>
<rect x="832" y="585" width="1" height="9" fill="#c0c0c0"/>
<rect x="840" y="583" width="1" height="11" fill="#c0c0c0"/>
<rect x="848" y="583" width="1" height="11" fill="#c0c0c0"/>
<rect x="856" y="584" width="1" height="10" fill="#c0c0c0"/>
<rect x="864" y="584" width="1" height="10" fill="#c0c0c0"/>
<rect x="872" y="587" width="1" height="7" fill="#c0c0c0"/>
<rect x="880" y="588" width="1" height="6" fill="#c0c0c0"/>
<rect x="888" y="593" width="1" height="3" fill="#c0c0c0"/>
<rect x="896" y="593" width="1" height="9" fill="#c0c0c0"/>
<rect x="904" y="593" width="1" height="14" fill="#c0c0c0"/>
<rect x="912" y="593" width="1" height="18" fill="#c0c0c0"/>
<rect x="920" y="593" width="1" height="23" fill="#c0c0c0"/>
<rect x="928" y="593" width="1" height="25" fill="#c0c0c0"/>
<rect x="936" y="593" width="1" height="26" fill="#c0c0c0"/>
<rect x="944" y="593" width="1" height="22" fill="#c0c0c0"/>
<rect x="952" y="593" width="1" height="18" fill="#c0c0c0"/>
<rect x="960" y="593" width="1" height="16" fill="#c0c0c0"/>
<rect x="968" y="593" width="1" height="15" fill="#c0c0c0"/>
<rect x="976" y="593" width="1" height="13" fill="#c0c0c0"/>
<rect x="984" y="593" width="1" height="16" fill="#c0c0c0"/>
<rect x="992" y="593" width="1" height="20" fill="#c0c0c0"/>
<rect x="1000" y="593" width="1" height="24" fill="#c0c0c0"/>
<rect x="1008" y="593" width="1" height="26" fill="#c0c0c0"/>
<rect x="1016" y="593" width="1" height="28" fill="#c0c0c0"/>
<rect x="1024" y="593" width="1" height="28" fill="#c0c0c0"/>
<rect x="1032" y="593" width="1" height="26" fill="#c0c0c0"/>
<rect x="1040" y="593" width="1" height="25" fill="#c0c0c0"/>
<rect x="1048" y="593" width="1" height="21" fill="#c0c0c0"/>
<rect x="1056" y="593" width="1" height="17" fill="#c0c0c0"/>
<rect x="1064" y="593" width="1" height="13" fill="#c0c0c0"/>
<rect x="1072" y="593" width="1" height="12" fill="#c0c0c0"/>
<rect x="1080" y="593" width="1" height="10" fill="#c0c0c0"/>
<rect x="1088" y="593" width="1" height="6" fill="#c0c0c0"/>
<rect x="1096" y="593" width="1" height="1" fill="#c0c0c0"/>
<rect x="1104" y="591" width="1" height="3" fill="#c0c0c0"/>
<rect x="1112" y="588" width="1" height="6" fill="#c0c0c0"/>
<rect x="1120" y="586" width="1" height="8" fill="#c0c0c0"/>
<rect x="1128" y="586" width="1" height="8" fill="#c0c0c0"/>
<rect x="1136" y="582" width="1" height="12" fill="#c0c0c0"/>
<rect x="1144" y="580" width="1" height="14" fill="#c0c0c0"/>
<rect x="1152" y="578" width="1" height="16" fill="#c0c0c0"/>
<rect x="1160" y="576" width="1" height="18" fill="#c0c0c0"/>
<rect x="1168" y="573" width="1" height="21" fill="#c0c0c0"/>
<rect x="1176" y="571" width="1" height="23" fill="#c0c0c0"/>
<rect x="1184" y="568" width="1" height="26" fill="#c0c0c0"/>
<rect x="1192" y="568" width="1" height="26" fill="#c0c0c0"/>
<rect x="1200" y="568" width="1" height="26" fill="#c0c0c0"/>
<rect x="1208" y="568" width="1" height="26" fill="#c0c0c0"/>
<rect x="1216" y="568" width="1" height="26" fill="#c0c0c0"/>
<rect x="1224" y="569" width="1" height="25" fill="#c0c0c0"/>
<rect x="1232" y="571" width="1" height="23" fill="#c0c0c0"/>
<rect x="1240" y="573" width="1" height="21" fill="#c0c0c0"/>
<rect x="1248" y="572" width="1" height="22" fill="#c0c0c0"/>
<rect x="1256" y="568" width="1" height="26" fill="#c0c0c0"/>
<rect x="1264" y="566" width="1" height="28" fill="#c0c0c0"/>
<rect x="1272" y="564" width="1" height="30" fill="#c0c0c0"/>
<rect x="1280" y="564" width="1" height="30" fill="#c0c0c0"/>
<rect x="1288" y="563" width="1" height="31" fill="#c0c0c0"/>
<rect x="1296" y="562" width="1" height="32" fill="#c0c0c0"/>
<rect x="1304" y="563" width="1" height="31" fill="#c0c0c0"/>
<rect x="1312" y="565" width="1" height="29" fill="#c0c0c0"/>
<rect x="1320" y="567" width="1" height="27" fill="#c0c0c0"/>
<rect x="1328" y="568" width="1" height="26" fill="#c0c0c0"/>
<rect x="1336" y="572" width="1" height="22" fill="#c0c0c0"/>
<rect x="1344" y="575" width="1" height="19" fill="#c0c0c0"/>
<rect x="1352" y="577" width="1" height="17" fill="#c0c0c0"/>
<rect x="1360" y="578" width="1" height="16" fill="#c0c0c0"/>
<rect x="1368" y="580" width="1" height="14" fill="#c0c0c0"/>
<rect x="1376" y="582" width="1" height="12" fill="#c0c0c0"/>
<rect x="1384" y="581" width="1" height="13" fill="#c0c0c0"/>
<rect x="1392" y="580" width="1" height="14" fill="#c0c0c0"/>
<rect x="1400" y="579" width="1" height="15" fill="#c0c0c0"/>
<rect x="1408" y="579" width="1" height="15" fill="#c0c0c0"/>
<rect x="1416" y="579" width="1" height="15" fill="#c0c0c0"/>
<rect x="1424" y="585" width="1" height="9" fill="#c0c0c0"/>
<rect x="1432" y="586" width="1" height="8" fill="#c0c0c0"/>
<rect x="1440" y="587" width="1" height="7" fill="#c0c0c0"/>
<rect x="1448" y="589" width="1" height="5" fill="#c0c0c0"/>
<rect x="1456" y="591" width="1" height="3" fill="#c0c0c0"/>
<rect x="1464" y="593" width="1" height="1" fill="#c0c0c0"/>
<rect x="1472" y="592" width="1" height="2" fill="#c0c0c0"/>
<rect x="1480" y="589" width="1" height="5" fill="#c0c0c0"/>
<rect x="1488" y="586" width="1" height="8" fill="#c0c0c0"/>
<rect x="1496" y="583" width="1" height="11" fill="#c0c0c0"/>
<rect x="1504" y="580" width="1" height="14" fill="#c0c0c0"/>
<rect x="1512" y="578" width="1" height="16" fill="#c0c0c0"/>
<rect x="1520" y="576" width="1" height="18" fill="#c0c0c0"/>
<rect x="1528" y="573" width="1" height="21" fill="#c0c0c0"/>
<rect x="1536" y="578" width="1" height="16" fill="#c0c0c0"/>
<rect x="1544" y="581" width="1" height="13" fill="#c0c0c0"/>
<rect x="1552" y="584" width="1" height="10" fill="#c0c0c0"/>
<rect x="1560" y="587" width="1" height="7" fill="#c0c0c0"/>
<rect x="1568" y="588" width="1" height="6" fill="#c0c0c0"/>
<rect x="1576" y="589" width="1" height="5" fill="#c0c0c0"/>
<rect x="1584" y="587" width="1" height="7" fill="#c0c0c0"/>
<rect x="1592" y="583" width="1" height="11" fill="#c0c0c0"/>
<rect x="1600" y="580" width="1" height="14" fill="#c0c0c0"/>
<rect x="1608" y="578" width="1" height="16" fill="#c0c0c0"/>
<rect x="1616" y="575" width="1" height="19" fill="#c0c0c0"/>
<rect x="1624" y="575" width="1" height="19" fill="#c0c0c0"/>
<rect x="1632" y="574" width="1" height="20" fill="#c0c0c0"/>
<rect x="1640" y="573" width="1" height="21" fill="#c0c0c0"/>
<rect x="1648" y="572" width="1" height="22" fill="#c0c0c0"/>
<rect x="1656" y="573" width="1" height="21" fill="#c0c0c0"/>
<path d="M320 545.5h1M324 545.5h3M330 545.5h3M336 545.5h3M342 545.5h3M313 546.5h2M318 546.5h2M348 546.5h3M308 547.5h1M312 547.5h1M354 547.5h3M306 548.5h2M360 548.5h3M366 548.5h3M300 549.5h3M372 549.5h3M295 550.5h2M378 550.5h3M294 551.5h1M384 551.5h2M288 552.5h3M386 552.5h1M282 553.5h3M390 553.5h3M276 554.5h3M396 555.5h3M270 556.5h3M402 556.5h1M403 557.5h2M264 558.5h3M408 558.5h1M258 559.5h3M409 559.5h2M252 560.5h3M414 560.5h1M242 561.5h1M246 561.5h3M415 561.5h2M235 562.5h2M240 562.5h2M186 563.5h3M192 563.5h3M198 563.5h3M204 563.5h3M210 563.5h3M216 563.5h3M222 563.5h3M228 563.5h3M234 563.5h1M420 563.5h2M1320 563.5h2M1325 563.5h3M1331 563.5h3M1337 563.5h3M181 564.5h2M422 564.5h1M1303 564.5h1M1307 564.5h3M1313 564.5h3M1319 564.5h1M1343 564.5h3M180 565.5h1M1297 565.5h1M1301 565.5h2M1349 565.5h2M174 566.5h3M426 566.5h1M1291 566.5h1M1295 566.5h2M1351 566.5h1M168 567.5h3M427 567.5h2M1271 567.5h3M1277 567.5h3M1283 567.5h3M1289 567.5h2M1355 567.5h2M0 568.5h2M157 568.5h2M162 568.5h3M1229 568.5h3M1235 568.5h3M1241 568.5h3M1247 568.5h3M1253 568.5h3M1259 568.5h3M1265 568.5h3M1357 568.5h1M1361 568.5h1M2 569.5h1M6 569.5h2M151 569.5h2M156 569.5h1M1217 569.5h3M1223 569.5h3M1362 569.5h2M8 570.5h1M12 570.5h2M146 570.5h1M150 570.5h1M432 570.5h2M1211 570.5h3M1367 570.5h2M14 571.5h1M18 571.5h2M144 571.5h2M434 571.5h1M1205 571.5h3M1369 571.5h1M20 572.5h1M24 572.5h2M138 572.5h3M1373 572.5h2M26 573.5h1M30 573.5h3M132 573.5h3M1200 573.5h2M1375 573.5h1M36 574.5h3M42 574.5h3M120 574.5h3M126 574.5h3M438 574.5h1M1199 574.5h1M1379 574.5h3M48 575.5h3M54 575.5h3M60 575.5h3M66 575.5h2M108 575.5h3M114 575.5h3M439 575.5h1M1193 575.5h3M1385 575.5h3M1391 575.5h2M1649 575.5h3M1655 575.5h1M68 576.5h1M72 576.5h3M78 576.5h3M84 576.5h3M90 576.5h3M96 576.5h3M102 576.5h3M440 576.5h1M1187 576.5h3M1393 576.5h1M1397 576.5h3M1643 576.5h3M1182 577.5h2M1403 577.5h3M1409 577.5h1M1638 577.5h2M1181 578.5h1M1410 578.5h2M1415 578.5h2M1637 578.5h1M444 579.5h1M1176 579.5h2M1417 579.5h1M1421 579.5h2M1541 579.5h3M1547 579.5h3M1553 579.5h3M1559 579.5h3M1631 579.5h3M445 580.5h1M1175 580.5h1M1423 580.5h1M1427 580.5h2M1536 580.5h2M1565 580.5h3M1571 580.5h3M1577 580.5h3M1627 580.5h1M446 581.5h1M1169 581.5h3M1429 581.5h1M1433 581.5h3M1439 581.5h3M1445 581.5h3M1535 581.5h1M1583 581.5h3M1589 581.5h1M1621 581.5h1M1625 581.5h2M1163 582.5h3M1451 582.5h3M1529 582.5h3M1590 582.5h2M1595 582.5h1M1613 582.5h3M1619 582.5h2M1457 583.5h2M1519 583.5h1M1523 583.5h3M1596 583.5h2M1601 583.5h3M1607 583.5h3M1157 584.5h3M1459 584.5h1M1513 584.5h1M1517 584.5h2M450 585.5h1M671 585.5h3M677 585.5h3M683 585.5h2M875 585.5h3M881 585.5h3M887 585.5h3M1463 585.5h3M1511 585.5h2M451 586.5h2M665 586.5h3M685 586.5h1M869 586.5h3M893 586.5h3M1152 586.5h2M1469 586.5h3M1475 586.5h1M1506 586.5h2M659 587.5h3M689 587.5h3M695 587.5h3M701 587.5h3M707 587.5h1M863 587.5h3M1151 587.5h1M1476 587.5h2M1481 587.5h3M1499 587.5h3M1505 587.5h1M654 588.5h2M708 588.5h2M713 588.5h3M719 588.5h3M725 588.5h3M731 588.5h3M737 588.5h3M743 588.5h3M749 588.5h3M755 588.5h3M857 588.5h3M899 588.5h3M1147 588.5h1M1487 588.5h3M1493 588.5h3M653 589.5h1M761 589.5h3M767 589.5h1M851 589.5h3M1145 589.5h2M456 590.5h1M648 590.5h2M768 590.5h2M773 590.5h3M846 590.5h2M905 590.5h2M1140 590.5h2M457 591.5h1M647 591.5h1M779 591.5h3M785 591.5h1M845 591.5h1M907 591.5h1M1139 591.5h1M458 592.5h1M643 592.5h1M786 592.5h2M791 592.5h2M839 592.5h3M911 592.5h1M1134 592.5h2M641 593.5h2M793 593.5h1M833 593.5h3M912 593.5h2M1133 593.5h1M797 594.5h3M828 594.5h2M1129 594.5h1M637 595.5h1M803 595.5h1M821 595.5h3M827 595.5h1M917 595.5h2M1127 595.5h2M461 596.5h1M635 596.5h2M804 596.5h2M809 596.5h3M815 596.5h3M919 596.5h1M462 597.5h2M923 597.5h1M1122 597.5h2M631 598.5h1M924 598.5h2M1121 598.5h1M630 599.5h1M1116 599.5h2M629 600.5h1M929 600.5h1M1115 600.5h1M467 601.5h1M930 601.5h2M1111 601.5h1M468 602.5h1M1109 602.5h2M469 603.5h1M935 603.5h1M1105 603.5h1M624 604.5h2M936 604.5h2M1103 604.5h2M623 605.5h1M941 606.5h1M1097 606.5h3M473 607.5h1M942 607.5h2M474 608.5h1M619 608.5h1M1093 608.5h1M475 609.5h1M618 609.5h1M947 609.5h1M1091 609.5h2M617 610.5h1M948 610.5h2M953 611.5h2M989 611.5h3M995 611.5h3M1001 611.5h3M1086 611.5h2M955 612.5h1M959 612.5h3M965 612.5h1M977 612.5h3M983 612.5h3M1007 612.5h3M1013 612.5h1M1085 612.5h1M479 613.5h1M613 613.5h1M966 613.5h2M971 613.5h3M1014 613.5h2M1080 613.5h2M480 614.5h2M612 614.5h1M1019 614.5h3M1025 614.5h3M1079 614.5h1M611 615.5h1M1031 615.5h3M1037 615.5h1M1073 615.5h3M1038 616.5h2M1043 616.5h3M1061 616.5h3M1067 616.5h3M1049 617.5h3M1055 617.5h3M485 618.5h1M607 618.5h1M486 619.5h2M606 619.5h1M605 620.5h1M491 622.5h1M492 623.5h1M601 623.5h1M493 624.5h1M600 624.5h1M599 625.5h1M497 626.5h1M498 627.5h2M595 628.5h1M594 629.5h1M503 630.5h2M593 630.5h1M505 631.5h1M509 633.5h1M588 633.5h2M510 634.5h2M587 634.5h1M515 636.5h1M583 636.5h1M516 637.5h2M581 637.5h2M521 639.5h2M576 639.5h2M523 640.5h1M575 640.5h1M527 641.5h2M529 642.5h1M569 642.5h3M533 643.5h2M535 644.5h1M564 644.5h2M539 645.5h3M563 645.5h1M545 646.5h3M551 646.5h3M557 646.5h3" fill="none" stroke="#ff0000" stroke-width="1"/>
<line x1="1" y1="695.5" x2="1676" y2="695.5" stroke="#c0c0c0" stroke-width="1" stroke-dasharray="3 3"/>
<line x1="1" y1="737.5" x2="1676" y2="737.5" stroke="#c0c0c0" stroke-width="1" stroke-dasharray="3 3"/>
<path d="M12.5 708v2M233.5 695v2M235.5 692v2M237.5 689v2M239.5 686v2M386.5 703v2M390.5 708v2M537.5 736v2M540.5 732v2M543.5 728v2M546.5 724v2M550.5 719v2M881.5 720v2M882.5 722v2M883.5 724v2M885.5 727v2M886.5 729v2M887.5 731v2M937.5 726v2M940.5 722v2M943.5 718v2M977.5 718v2M980.5 722v2M983.5 726v2M1308.5 702v2M1329.5 703v2M1330.5 705v2M1332.5 708v2M1334.5 711v2M1335.5 713v2M1416.5 706v2M1417.5 708v2M1418.5 710v2M1419.5 712v2M1420.5 714v3M1421.5 717v2M1422.5 719v2M1423.5 721v2M1424.5 723v2M1466.5 718v2M1470.5 713v2M1528.5 696v2M1529.5 698v3M1530.5 701v3M1531.5 704v3M1532.5 707v3M1533.5 710v3M1534.5 713v3M1535.5 716v3M1536.5 719v2M1618.5 702v2M1622.5 707v2M240 685.5h1M241 686.5h2M243 687.5h1M238 688.5h1M244 688.5h2M263 688.5h2M246 689.5h2M261 689.5h2M265 689.5h1M248 690.5h2M259 690.5h2M266 690.5h1M303 690.5h3M224 691.5h1M236 691.5h1M250 691.5h4M257 691.5h2M267 691.5h1M301 691.5h2M306 691.5h2M222 692.5h2M225 692.5h1M254 692.5h3M268 692.5h2M299 692.5h2M308 692.5h3M156 693.5h5M220 693.5h2M226 693.5h2M270 693.5h1M297 693.5h2M311 693.5h5M1294 693.5h3M148 694.5h8M161 694.5h1M219 694.5h1M228 694.5h1M234 694.5h1M271 694.5h1M287 694.5h10M316 694.5h5M1260 694.5h14M1290 694.5h4M1297 694.5h2M144 695.5h4M162 695.5h1M217 695.5h2M229 695.5h1M272 695.5h2M285 695.5h2M321 695.5h1M1256 695.5h4M1274 695.5h4M1284 695.5h6M1299 695.5h1M142 696.5h2M163 696.5h1M216 696.5h1M230 696.5h2M274 696.5h2M283 696.5h2M322 696.5h2M1255 696.5h1M1278 696.5h6M1300 696.5h2M1527 696.5h1M140 697.5h2M164 697.5h2M214 697.5h2M232 697.5h1M276 697.5h3M281 697.5h2M324 697.5h1M366 697.5h6M1180 697.5h5M1254 697.5h1M1302 697.5h2M1525 697.5h2M139 698.5h1M166 698.5h1M212 698.5h2M279 698.5h2M325 698.5h1M362 698.5h4M372 698.5h6M1172 698.5h8M1185 698.5h1M1252 698.5h2M1304 698.5h1M1523 698.5h2M137 699.5h2M167 699.5h1M188 699.5h6M211 699.5h1M326 699.5h2M359 699.5h3M378 699.5h2M1167 699.5h5M1186 699.5h2M1251 699.5h1M1305 699.5h1M1521 699.5h2M126 700.5h11M168 700.5h20M194 700.5h4M209 700.5h2M328 700.5h2M356 700.5h3M380 700.5h3M1165 700.5h2M1188 700.5h1M1250 700.5h1M1306 700.5h1M1519 700.5h2M1616 700.5h1M110 701.5h6M122 701.5h4M198 701.5h11M330 701.5h2M354 701.5h2M383 701.5h2M1163 701.5h2M1189 701.5h1M1198 701.5h6M1212 701.5h5M1249 701.5h1M1307 701.5h1M1516 701.5h3M1614 701.5h2M1617 701.5h1M106 702.5h4M116 702.5h6M332 702.5h3M340 702.5h14M385 702.5h1M1161 702.5h2M1190 702.5h2M1194 702.5h4M1204 702.5h8M1217 702.5h1M1248 702.5h1M1328 702.5h1M1500 702.5h8M1514 702.5h2M1612 702.5h2M104 703.5h2M335 703.5h5M1140 703.5h8M1156 703.5h5M1192 703.5h2M1218 703.5h2M1246 703.5h2M1326 703.5h2M1494 703.5h6M1508 703.5h6M1592 703.5h4M1611 703.5h1M6 704.5h3M87 704.5h2M102 704.5h2M1136 704.5h4M1148 704.5h8M1220 704.5h1M1245 704.5h1M1309 704.5h1M1324 704.5h2M1390 704.5h6M1490 704.5h4M1590 704.5h2M1596 704.5h8M1609 704.5h2M1619 704.5h1M2 705.5h4M9 705.5h1M85 705.5h2M89 705.5h2M101 705.5h1M387 705.5h1M1096 705.5h2M1116 705.5h5M1135 705.5h1M1221 705.5h1M1244 705.5h1M1310 705.5h1M1323 705.5h1M1386 705.5h4M1396 705.5h6M1484 705.5h6M1588 705.5h2M1604 705.5h5M1620 705.5h1M1632 705.5h12M0 706.5h2M10 706.5h1M83 706.5h2M91 706.5h1M100 706.5h1M388 706.5h1M828 706.5h13M1094 706.5h2M1098 706.5h4M1108 706.5h8M1121 706.5h1M1134 706.5h1M1222 706.5h2M1242 706.5h2M1311 706.5h1M1321 706.5h2M1384 706.5h2M1402 706.5h2M1414 706.5h2M1480 706.5h4M1587 706.5h1M1621 706.5h1M1630 706.5h2M1644 706.5h8M11 707.5h1M31 707.5h3M52 707.5h5M81 707.5h2M92 707.5h2M98 707.5h2M389 707.5h1M624 707.5h4M824 707.5h4M841 707.5h1M1092 707.5h2M1102 707.5h6M1122 707.5h1M1133 707.5h1M1224 707.5h4M1241 707.5h1M1312 707.5h9M1331 707.5h1M1383 707.5h1M1404 707.5h3M1410 707.5h4M1478 707.5h2M1585 707.5h2M1628 707.5h2M1652 707.5h4M29 708.5h2M34 708.5h2M46 708.5h6M57 708.5h2M79 708.5h2M94 708.5h2M97 708.5h1M567 708.5h2M596 708.5h13M622 708.5h2M628 708.5h5M727 708.5h2M822 708.5h2M842 708.5h2M1091 708.5h1M1123 708.5h1M1132 708.5h1M1228 708.5h13M1382 708.5h1M1407 708.5h3M1476 708.5h2M1584 708.5h1M1627 708.5h1M27 709.5h2M36 709.5h3M42 709.5h4M59 709.5h1M76 709.5h3M96 709.5h1M565 709.5h2M569 709.5h2M583 709.5h13M609 709.5h2M620 709.5h2M633 709.5h2M724 709.5h3M729 709.5h2M807 709.5h3M820 709.5h2M844 709.5h1M1089 709.5h2M1124 709.5h2M1131 709.5h1M1381 709.5h1M1475 709.5h1M1583 709.5h1M1623 709.5h1M1625 709.5h2M13 710.5h1M25 710.5h2M39 710.5h3M60 710.5h2M74 710.5h2M391 710.5h1M563 710.5h2M571 710.5h2M580 710.5h3M611 710.5h2M619 710.5h1M635 710.5h2M722 710.5h2M731 710.5h2M805 710.5h2M810 710.5h2M819 710.5h1M845 710.5h1M1088 710.5h1M1126 710.5h1M1130 710.5h1M1333 710.5h1M1380 710.5h1M1473 710.5h2M1582 710.5h1M1624 710.5h1M14 711.5h1M22 711.5h3M62 711.5h2M68 711.5h6M392 711.5h2M561 711.5h2M573 711.5h2M578 711.5h2M613 711.5h2M617 711.5h2M637 711.5h2M719 711.5h3M733 711.5h2M803 711.5h2M812 711.5h3M817 711.5h2M846 711.5h2M1086 711.5h2M1127 711.5h1M1129 711.5h1M1379 711.5h1M1472 711.5h1M1581 711.5h1M15 712.5h1M18 712.5h4M64 712.5h4M394 712.5h2M560 712.5h1M575 712.5h3M615 712.5h2M639 712.5h3M703 712.5h3M716 712.5h3M735 712.5h2M801 712.5h2M815 712.5h2M848 712.5h2M862 712.5h3M1085 712.5h1M1128 712.5h1M1356 712.5h8M1378 712.5h1M1471 712.5h1M1580 712.5h1M16 713.5h2M396 713.5h3M558 713.5h2M642 713.5h2M700 713.5h3M706 713.5h4M714 713.5h2M737 713.5h1M799 713.5h2M850 713.5h4M858 713.5h4M865 713.5h2M1084 713.5h1M1348 713.5h8M1364 713.5h8M1377 713.5h1M1439 713.5h2M1579 713.5h1M399 714.5h2M556 714.5h2M644 714.5h3M698 714.5h2M710 714.5h4M738 714.5h1M797 714.5h2M854 714.5h4M867 714.5h2M1055 714.5h10M1082 714.5h2M1340 714.5h8M1372 714.5h5M1436 714.5h3M1441 714.5h2M1578 714.5h1M401 715.5h1M555 715.5h1M647 715.5h3M671 715.5h2M692 715.5h6M739 715.5h1M795 715.5h2M869 715.5h2M1052 715.5h3M1065 715.5h2M1081 715.5h1M1336 715.5h4M1434 715.5h2M1443 715.5h1M1469 715.5h1M1577 715.5h1M402 716.5h1M553 716.5h2M650 716.5h2M669 716.5h2M673 716.5h2M687 716.5h5M740 716.5h1M793 716.5h2M871 716.5h3M1050 716.5h2M1067 716.5h2M1078 716.5h3M1432 716.5h2M1444 716.5h2M1468 716.5h1M1567 716.5h10M403 717.5h1M552 717.5h1M652 717.5h3M667 717.5h2M675 717.5h1M685 717.5h2M741 717.5h1M790 717.5h3M874 717.5h2M944 717.5h18M975 717.5h2M1048 717.5h2M1069 717.5h2M1074 717.5h4M1431 717.5h1M1446 717.5h2M1467 717.5h1M1565 717.5h2M404 718.5h1M551 718.5h1M655 718.5h5M665 718.5h2M676 718.5h2M683 718.5h2M742 718.5h1M774 718.5h6M786 718.5h4M876 718.5h3M962 718.5h2M972 718.5h3M1046 718.5h2M1071 718.5h3M1430 718.5h1M1448 718.5h1M1542 718.5h6M1563 718.5h2M405 719.5h1M660 719.5h5M678 719.5h2M681 719.5h2M743 719.5h1M770 719.5h4M780 719.5h6M879 719.5h2M964 719.5h3M970 719.5h2M1044 719.5h2M1429 719.5h1M1449 719.5h2M1538 719.5h4M1548 719.5h8M1561 719.5h2M406 720.5h1M680 720.5h1M744 720.5h1M768 720.5h2M942 720.5h1M967 720.5h3M978 720.5h1M1043 720.5h1M1428 720.5h1M1451 720.5h2M1465 720.5h1M1537 720.5h1M1556 720.5h5M407 721.5h1M549 721.5h1M745 721.5h2M767 721.5h1M941 721.5h1M979 721.5h1M1041 721.5h2M1427 721.5h1M1453 721.5h2M1460 721.5h5M408 722.5h2M548 722.5h1M747 722.5h1M766 722.5h1M1036 722.5h5M1426 722.5h1M1455 722.5h5M410 723.5h2M547 723.5h1M748 723.5h2M764 723.5h2M1031 723.5h5M1425 723.5h1M412 724.5h3M750 724.5h2M763 724.5h1M939 724.5h1M981 724.5h1M1029 724.5h2M415 725.5h2M752 725.5h2M762 725.5h1M938 725.5h1M982 725.5h1M1027 725.5h2M417 726.5h1M545 726.5h1M754 726.5h4M761 726.5h1M884 726.5h1M1025 726.5h2M418 727.5h1M544 727.5h1M758 727.5h3M1023 727.5h2M419 728.5h1M935 728.5h2M984 728.5h1M1020 728.5h3M420 729.5h2M933 729.5h2M985 729.5h2M1018 729.5h2M422 730.5h1M542 730.5h1M931 730.5h2M987 730.5h1M999 730.5h5M1012 730.5h6M423 731.5h1M541 731.5h1M894 731.5h14M929 731.5h2M988 731.5h2M996 731.5h3M1004 731.5h8M424 732.5h4M479 732.5h5M890 732.5h4M908 732.5h5M927 732.5h2M990 732.5h2M994 732.5h2M428 733.5h5M477 733.5h2M484 733.5h6M888 733.5h2M913 733.5h2M925 733.5h2M992 733.5h2M433 734.5h1M475 734.5h2M490 734.5h4M539 734.5h1M915 734.5h2M923 734.5h2M434 735.5h1M473 735.5h2M494 735.5h11M538 735.5h1M917 735.5h2M921 735.5h2M435 736.5h1M464 736.5h9M505 736.5h2M919 736.5h2M436 737.5h1M462 737.5h2M507 737.5h1M437 738.5h1M460 738.5h2M508 738.5h2M536 738.5h1M438 739.5h1M459 739.5h1M510 739.5h2M535 739.5h1M439 740.5h1M457 740.5h2M512 740.5h9M534 740.5h1M440 741.5h1M456 741.5h1M521 741.5h2M532 741.5h2M441 742.5h1M455 742.5h1M523 742.5h1M531 742.5h1M442 743.5h1M454 743.5h1M524 743.5h2M530 743.5h1M443 744.5h1M453 744.5h1M526 744.5h2M529 744.5h1M444 745.5h1M452 745.5h1M528 745.5h1M445 746.5h1M451 746.5h1M446 747.5h1M450 747.5h1M447 748.5h1M449 748.5h1M448 749.5h1" fill="none" stroke="#1e90ff" stroke-width="1"/>
<rect x="1676" y="36" width="3" height="1" fill="#000"/>
<rect x="1676" y="69" width="3" height="1" fill="#000"/>
<rect x="1676" y="102" width="3" height="1" fill="#000"/>
<rect x="1676" y="135" width="3" height="1" fill="#000"/>
<rect x="1676" y="168" width="3" height="1" fill="#000"/>
<rect x="1676" y="201" width="3" height="1" fill="#000"/>
<rect x="1676" y="234" width="3" height="1" fill="#000"/>
<rect x="1676" y="267" width="3" height="1" fill="#000"/>
<rect x="1676" y="300" width="3" height="1" fill="#000"/>
<rect x="1676" y="333" width="3" height="1" fill="#000"/>
<rect x="1676" y="366" width="3" height="1" fill="#000"/>
<rect x="1676" y="399" width="3" height="1" fill="#000"/>
<rect x="1676" y="432" width="3" height="1" fill="#000"/>
<rect x="1676" y="465" width="3" height="1" fill="#000"/>
<rect x="1676" y="498" width="3" height="1" fill="#000"/>
<rect x="1676" y="531" width="3" height="1" fill="#000"/>
<rect x="1676" y="538" width="2" height="1" fill="#000"/>
<rect x="1676" y="593" width="2" height="1" fill="#000"/>
<rect x="1676" y="660" width="2" height="1" fill="#000"/>
<rect x="1676" y="665" width="2" height="1" fill="#000"/>
<rect x="0" y="769" width="1" height="3" fill="#000"/>
<rect x="64" y="769" width="1" height="3" fill="#000"/>
<rect x="128" y="769" width="1" height="3" fill="#000"/>
<rect x="192" y="769" width="1" height="3" fill="#000"/>
<rect x="256" y="769" width="1" height="3" fill="#000"/>
<rect x="320" y="769" width="1" height="3" fill="#000"/>
<rect x="384" y="769" width="1" height="3" fill="#000"/>
<rect x="448" y="769" width="1" height="3" fill="#000"/>
<rect x="512" y="769" width="1" height="3" fill="#000"/>
<rect x="576" y="769" width="1" height="3" fill="#000"/>
<rect x="640" y="769" width="1" height="3" fill="#000"/>
<rect x="704" y="769" width="1" height="3" fill="#000"/>
<rect x="768" y="769" width="1" height="3" fill="#000"/>
<rect x="832" y="769" width="1" height="3" fill="#000"/>
<rect x="896" y="769" width="1" height="3" fill="#000"/>
<rect x="960" y="769" width="1" height="3" fill="#000"/>
<rect x="1024" y="769" width="1" height="3" fill="#000"/>
<rect x="1088" y="769" width="1" height="3" fill="#000"/>
<rect x="1152" y="769" width="1" height="3" fill="#000"/>
<rect x="1216" y="769" width="1" height="3" fill="#000"/>
<rect x="1280" y="769" width="1" height="3" fill="#000"/>
<rect x="1344" y="769" width="1" height="3" fill="#000"/>
<rect x="1408" y="769" width="1" height="3" fill="#000"/>
<rect x="1472" y="769" width="1" height="3" fill="#000"/>
<rect x="1536" y="769" width="1" height="3" fill="#000"/>
<rect x="1600" y="769" width="1" height="3" fill="#000"/>
</svg>
<div class="t" style="left:1681px;top:31px">3241.830</div><div class="t" style="left:1681px;top:64px">3221.205</div><div class="t" style="left:1681px;top:97px">3200.580</div><div class="t" style="left:1681px;top:130px">3179.330</div><div class="t" style="left:1681px;top:163px">3158.705</div><div class="t" style="left:1681px;top:196px">3138.080</div><div class="t" style="left:1681px;top:229px">3116.830</div><div class="t" style="left:1681px;top:262px">3096.205</div><div class="t" style="left:1681px;top:295px">3075.580</div><div class="t" style="left:1681px;top:328px">3054.330</div><div class="t" style="left:1681px;top:361px">3033.705</div><div class="t" style="left:1681px;top:394px">3013.080</div><div class="t" style="left:1681px;top:427px">2991.830</div><div class="t" style="left:1681px;top:460px">2971.205</div><div class="t" style="left:1681px;top:493px">2950.580</div><div class="t" style="left:1681px;top:526px">2929.955</div>
<div class="lab" style="top:77px;background:#000"><span>3213.250</span></div><div class="lab" style="top:73px;background:#32cd32"><span>3215.000</span></div><div class="lab" style="top:223px;background:#4169e1"><span>3120.000</span></div><div class="lab" style="top:414px;background:#4169e1"><span>3000.000</span></div>
<div class="t" style="left:1679px;top:538px">41.833</div><div class="t" style="left:1679px;top:588px">0.00</div><div class="t" style="left:1679px;top:649px">-51.2535</div><div class="t" style="left:1679px;top:665px">100</div><div class="t" style="left:1679px;top:690px">70</div><div class="t" style="left:1679px;top:732px">30</div><div class="t" style="left:1679px;top:756px">0</div>
<div class="t" style="left:15px;top:30px;word-spacing:1.6px">SP500-,H4&nbsp; 3216.500 3217.000 3207.500 3213.250</div><svg width="12" height="6" style="left:2px;top:33px" viewBox="0 0 12 6" shape-rendering="crispEdges"><rect x="1" y="1" width="7" height="1"/><rect x="2" y="2" width="5" height="1"/><rect x="3" y="3" width="3" height="1"/><rect x="4" y="4" width="1" height="1"/></svg><div class="t" style="left:4px;top:540px;letter-spacing:0.22px">MACD(12,26,9) 15.9382 13.5427</div><div class="t" style="left:4px;top:667px;letter-spacing:0.15px">RSI(14) 58.3784</div>
<div class="t" style="left:0px;top:772px">29 May 2020</div><div class="t" style="left:64px;top:772px">1 Jun 20:00</div><div class="t" style="left:128px;top:772px">3 Jun 04:00</div><div class="t" style="left:192px;top:772px">4 Jun 12:00</div><div class="t" style="left:256px;top:772px">5 Jun 20:00</div><div class="t" style="left:320px;top:772px">9 Jun 00:00</div><div class="t" style="left:384px;top:772px">10 Jun 08:00</div><div class="t" style="left:448px;top:772px">11 Jun 16:00</div><div class="t" style="left:512px;top:772px">14 Jun 23:00</div><div class="t" style="left:576px;top:772px">16 Jun 04:00</div><div class="t" style="left:640px;top:772px">17 Jun 12:00</div><div class="t" style="left:704px;top:772px">18 Jun 20:00</div><div class="t" style="left:768px;top:772px">22 Jun 00:00</div><div class="t" style="left:832px;top:772px">23 Jun 08:00</div><div class="t" style="left:896px;top:772px">24 Jun 16:00</div><div class="t" style="left:960px;top:772px">26 Jun 00:00</div><div class="t" style="left:1024px;top:772px">29 Jun 04:00</div><div class="t" style="left:1088px;top:772px">30 Jun 12:00</div><div class="t" style="left:1152px;top:772px">1 Jul 20:00</div><div class="t" style="left:1216px;top:772px">3 Jul 04:00</div><div class="t" style="left:1280px;top:772px">6 Jul 12:00</div><div class="t" style="left:1344px;top:772px">7 Jul 20:00</div><div class="t" style="left:1408px;top:772px">9 Jul 04:00</div><div class="t" style="left:1472px;top:772px">10 Jul 12:00</div><div class="t" style="left:1536px;top:772px">13 Jul 16:00</div><div class="t" style="left:1600px;top:772px">15 Jul 00:00</div>
<div id="note">多空转折点3215</div>
</body></html>
